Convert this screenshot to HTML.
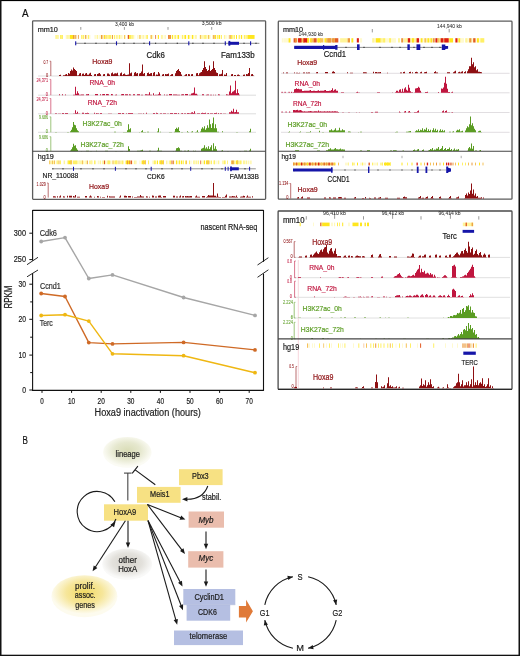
<!DOCTYPE html>
<html><head><meta charset="utf-8"><style>
html,body{margin:0;padding:0;background:#fff;width:520px;height:656px;overflow:hidden}
svg{display:block;will-change:transform}
text{font-family:"Liberation Sans", sans-serif;}
</style></head><body>
<svg width="520" height="656" viewBox="0 0 520 656" font-family='"Liberation Sans", sans-serif'>
<rect x="0" y="0" width="520" height="656" fill="#fff"/>
<text x="21.9" y="16.7" font-size="11.12" fill="#111" stroke="#111" stroke-width="0.2" textLength="6.6" lengthAdjust="spacingAndGlyphs">A</text>
<text x="22.6" y="443.7" font-size="11.12" fill="#111" stroke="#111" stroke-width="0.2" textLength="5.4" lengthAdjust="spacingAndGlyphs">B</text>
<line x1="32.6" y1="210.4" x2="263.5" y2="210.4" stroke="#111" stroke-width="1.1"/>
<line x1="32.6" y1="210" x2="32.6" y2="260.8" stroke="#111" stroke-width="1.1"/>
<line x1="32.6" y1="273.2" x2="32.6" y2="390.9" stroke="#111" stroke-width="1.1"/>
<line x1="32.1" y1="390.4" x2="263.5" y2="390.4" stroke="#111" stroke-width="1.1"/>
<line x1="263.5" y1="210" x2="263.5" y2="261.8" stroke="#111" stroke-width="1.1"/>
<line x1="263.5" y1="273.6" x2="263.5" y2="390.9" stroke="#111" stroke-width="1.1"/>
<line x1="27" y1="264.7" x2="38" y2="257.3" stroke="#111" stroke-width="0.9"/>
<line x1="27" y1="276.8" x2="38" y2="270" stroke="#111" stroke-width="0.9"/>
<line x1="257.5" y1="265" x2="268.4" y2="257.7" stroke="#111" stroke-width="0.9"/>
<line x1="257.5" y1="277.3" x2="268.4" y2="269.8" stroke="#111" stroke-width="0.9"/>
<line x1="29.3" y1="233.2" x2="32.6" y2="233.2" stroke="#111" stroke-width="1"/>
<text x="13.8" y="235.9" font-size="8.21" fill="#222" stroke="#222" stroke-width="0.2" textLength="12.2" lengthAdjust="spacingAndGlyphs">300</text>
<line x1="29.3" y1="259.6" x2="32.6" y2="259.6" stroke="#111" stroke-width="1"/>
<text x="13.8" y="262.3" font-size="8.21" fill="#222" stroke="#222" stroke-width="0.2" textLength="12.2" lengthAdjust="spacingAndGlyphs">250</text>
<line x1="29.3" y1="284.2" x2="32.6" y2="284.2" stroke="#111" stroke-width="1"/>
<text x="18.5" y="286.9" font-size="8.21" fill="#222" stroke="#222" stroke-width="0.2" textLength="7.5" lengthAdjust="spacingAndGlyphs">30</text>
<line x1="29.3" y1="319.3" x2="32.6" y2="319.3" stroke="#111" stroke-width="1"/>
<text x="18.5" y="322" font-size="8.21" fill="#222" stroke="#222" stroke-width="0.2" textLength="7.5" lengthAdjust="spacingAndGlyphs">20</text>
<line x1="29.3" y1="355.1" x2="32.6" y2="355.1" stroke="#111" stroke-width="1"/>
<text x="18.4" y="357.8" font-size="8.21" fill="#222" stroke="#222" stroke-width="0.2" textLength="7.6" lengthAdjust="spacingAndGlyphs">10</text>
<line x1="29.3" y1="390" x2="32.6" y2="390" stroke="#111" stroke-width="1"/>
<text x="22.2" y="392.7" font-size="8.21" fill="#222" stroke="#222" stroke-width="0.2" textLength="3.8" lengthAdjust="spacingAndGlyphs">0</text>
<line x1="30.2" y1="301.9" x2="32.6" y2="301.9" stroke="#111" stroke-width="1"/>
<line x1="30.2" y1="337.2" x2="32.6" y2="337.2" stroke="#111" stroke-width="1"/>
<line x1="30.2" y1="372.6" x2="32.6" y2="372.6" stroke="#111" stroke-width="1"/>
<line x1="42" y1="390.4" x2="42" y2="392.9" stroke="#111" stroke-width="1"/>
<text x="40.25" y="403.8" font-size="8.21" fill="#222" stroke="#222" stroke-width="0.2" textLength="3.5" lengthAdjust="spacingAndGlyphs">0</text>
<line x1="71.6" y1="390.4" x2="71.6" y2="392.9" stroke="#111" stroke-width="1"/>
<text x="68" y="403.8" font-size="8.21" fill="#222" stroke="#222" stroke-width="0.2" textLength="7.2" lengthAdjust="spacingAndGlyphs">10</text>
<line x1="101.2" y1="390.4" x2="101.2" y2="392.9" stroke="#111" stroke-width="1"/>
<text x="97.6" y="403.8" font-size="8.21" fill="#222" stroke="#222" stroke-width="0.2" textLength="7.2" lengthAdjust="spacingAndGlyphs">20</text>
<line x1="130.8" y1="390.4" x2="130.8" y2="392.9" stroke="#111" stroke-width="1"/>
<text x="127.2" y="403.8" font-size="8.21" fill="#222" stroke="#222" stroke-width="0.2" textLength="7.2" lengthAdjust="spacingAndGlyphs">30</text>
<line x1="160.4" y1="390.4" x2="160.4" y2="392.9" stroke="#111" stroke-width="1"/>
<text x="156.8" y="403.8" font-size="8.21" fill="#222" stroke="#222" stroke-width="0.2" textLength="7.2" lengthAdjust="spacingAndGlyphs">40</text>
<line x1="190" y1="390.4" x2="190" y2="392.9" stroke="#111" stroke-width="1"/>
<text x="186.4" y="403.8" font-size="8.21" fill="#222" stroke="#222" stroke-width="0.2" textLength="7.2" lengthAdjust="spacingAndGlyphs">50</text>
<line x1="219.6" y1="390.4" x2="219.6" y2="392.9" stroke="#111" stroke-width="1"/>
<text x="216" y="403.8" font-size="8.21" fill="#222" stroke="#222" stroke-width="0.2" textLength="7.2" lengthAdjust="spacingAndGlyphs">60</text>
<line x1="249.2" y1="390.4" x2="249.2" y2="392.9" stroke="#111" stroke-width="1"/>
<text x="245.6" y="403.8" font-size="8.21" fill="#222" stroke="#222" stroke-width="0.2" textLength="7.2" lengthAdjust="spacingAndGlyphs">70</text>
<text x="94.6" y="415.8" font-size="10.58" fill="#222" stroke="#222" stroke-width="0.2" textLength="106.2" lengthAdjust="spacingAndGlyphs">Hoxa9 inactivation (hours)</text>
<text x="0" y="0" font-size="10.2" fill="#1a1a1a" stroke="#1a1a1a" stroke-width="0.2" textLength="23" lengthAdjust="spacingAndGlyphs" transform="translate(11.6,308.6) rotate(-90)">RPKM</text>
<text x="200.5" y="229.9" font-size="8.21" fill="#222" stroke="#222" stroke-width="0.2" textLength="56.9" lengthAdjust="spacingAndGlyphs">nascent RNA-seq</text>
<text x="39.7" y="235.8" font-size="8.21" fill="#333" stroke="#333" stroke-width="0.2" textLength="17.3" lengthAdjust="spacingAndGlyphs">Cdk6</text>
<text x="40" y="288.8" font-size="8.21" fill="#333" stroke="#333" stroke-width="0.2" textLength="20.8" lengthAdjust="spacingAndGlyphs">Ccnd1</text>
<text x="39.7" y="326.2" font-size="8.21" fill="#333" stroke="#333" stroke-width="0.2" textLength="13.1" lengthAdjust="spacingAndGlyphs">Terc</text>
<path d="M41.2,241.5 L65,237.6 L88.8,278.5 L112.5,274.9 L183.6,297.5 L255,315.4" fill="none" stroke="#a6a6a6" stroke-width="1.4" stroke-linejoin="round"/>
<circle cx="41.2" cy="241.5" r="1.9" fill="#a6a6a6"/>
<circle cx="65" cy="237.6" r="1.9" fill="#a6a6a6"/>
<circle cx="88.8" cy="278.5" r="1.9" fill="#a6a6a6"/>
<circle cx="112.5" cy="274.9" r="1.9" fill="#a6a6a6"/>
<circle cx="183.6" cy="297.5" r="1.9" fill="#a6a6a6"/>
<circle cx="255" cy="315.4" r="1.9" fill="#a6a6a6"/>
<path d="M41.2,293.5 L65,296.5 L88.8,342.6 L112.5,343.9 L183.6,342.4 L255,349.9" fill="none" stroke="#cf6a26" stroke-width="1.4" stroke-linejoin="round"/>
<circle cx="41.2" cy="293.5" r="1.9" fill="#cf6a26"/>
<circle cx="65" cy="296.5" r="1.9" fill="#cf6a26"/>
<circle cx="88.8" cy="342.6" r="1.9" fill="#cf6a26"/>
<circle cx="112.5" cy="343.9" r="1.9" fill="#cf6a26"/>
<circle cx="183.6" cy="342.4" r="1.9" fill="#cf6a26"/>
<circle cx="255" cy="349.9" r="1.9" fill="#cf6a26"/>
<path d="M41.2,315.5 L65,314.7 L88.8,321.1 L112.5,353.8 L183.6,355.7 L255,372.7" fill="none" stroke="#efb712" stroke-width="1.4" stroke-linejoin="round"/>
<circle cx="41.2" cy="315.5" r="1.9" fill="#efb712"/>
<circle cx="65" cy="314.7" r="1.9" fill="#efb712"/>
<circle cx="88.8" cy="321.1" r="1.9" fill="#efb712"/>
<circle cx="112.5" cy="353.8" r="1.9" fill="#efb712"/>
<circle cx="183.6" cy="355.7" r="1.9" fill="#efb712"/>
<circle cx="255" cy="372.7" r="1.9" fill="#efb712"/>
<defs>
<radialGradient id="gLin" cx="50%" cy="45%" r="50%"><stop offset="0" stop-color="#d9dcb6"/><stop offset="0.55" stop-color="#e6e8cf"/><stop offset="1" stop-color="#fbfbf4"/></radialGradient>
<radialGradient id="gOth" cx="50%" cy="45%" r="50%"><stop offset="0" stop-color="#d6d3cc"/><stop offset="0.6" stop-color="#e3e1dc"/><stop offset="1" stop-color="#f9f9f8"/></radialGradient>
<radialGradient id="gPro" cx="50%" cy="42%" r="50%"><stop offset="0" stop-color="#f2da62"/><stop offset="0.55" stop-color="#f6e69a"/><stop offset="1" stop-color="#fdfbee"/></radialGradient>
</defs>
<ellipse cx="127.3" cy="452.3" rx="24.3" ry="15.4" fill="url(#gLin)"/>
<ellipse cx="127.2" cy="564.2" rx="25" ry="15.6" fill="url(#gOth)"/>
<ellipse cx="84.4" cy="596.2" rx="33" ry="21" fill="url(#gPro)"/>
<text x="115.6" y="456.6" font-size="8.53" fill="#1c1c1c" stroke="#1c1c1c" stroke-width="0.2" textLength="24.4" lengthAdjust="spacingAndGlyphs">lineage</text>
<text x="118.6" y="562.7" font-size="8.53" fill="#1c1c1c" stroke="#1c1c1c" stroke-width="0.2" textLength="18.2" lengthAdjust="spacingAndGlyphs">other</text>
<text x="118.2" y="572" font-size="8.53" fill="#1c1c1c" stroke="#1c1c1c" stroke-width="0.2" textLength="19" lengthAdjust="spacingAndGlyphs">HoxA</text>
<text x="75" y="588.5" font-size="8.53" fill="#1c1c1c" stroke="#1c1c1c" stroke-width="0.2" textLength="20" lengthAdjust="spacingAndGlyphs">prolif.</text>
<text x="74.8" y="598" font-size="8.53" fill="#1c1c1c" stroke="#1c1c1c" stroke-width="0.2" textLength="20.8" lengthAdjust="spacingAndGlyphs">assoc.</text>
<text x="75.2" y="607.7" font-size="8.53" fill="#1c1c1c" stroke="#1c1c1c" stroke-width="0.2" textLength="19.8" lengthAdjust="spacingAndGlyphs">genes</text>
<rect x="179" y="469.2" width="43.6" height="15.9" fill="#f7e183"/>
<rect x="137" y="486.9" width="43.6" height="15.9" fill="#f7e183"/>
<rect x="104" y="504.3" width="44" height="16.4" fill="#f7e183"/>
<rect x="188.6" y="511.5" width="35.4" height="16.2" fill="#eabdad"/>
<rect x="188.2" y="551.2" width="35.2" height="16.4" fill="#eabdad"/>
<rect x="186.6" y="604.7" width="43.6" height="16" fill="#b5bfe2"/>
<rect x="183.3" y="589" width="52" height="15.7" fill="#b5bfe2"/>
<line x1="183.3" y1="604.75" x2="235.3" y2="604.75" stroke="#a7b1d6" stroke-width="0.5"/>
<rect x="174" y="630.5" width="69" height="14.6" fill="#b5bfe2"/>
<text x="192" y="479.3" font-size="8.53" fill="#1c1c1c" stroke="#1c1c1c" stroke-width="0.2" textLength="16.7" lengthAdjust="spacingAndGlyphs">Pbx3</text>
<text x="150.1" y="497.3" font-size="8.53" fill="#1c1c1c" stroke="#1c1c1c" stroke-width="0.2" textLength="19.5" lengthAdjust="spacingAndGlyphs">Meis1</text>
<text x="113.5" y="515" font-size="8.53" fill="#1c1c1c" stroke="#1c1c1c" stroke-width="0.2" textLength="22.7" lengthAdjust="spacingAndGlyphs">HoxA9</text>
<text x="198.4" y="522.8" font-size="8.53" fill="#1c1c1c" stroke="#1c1c1c" stroke-width="0.2" textLength="15.2" lengthAdjust="spacingAndGlyphs" font-style="italic">Myb</text>
<text x="198.6" y="561.3" font-size="8.53" fill="#1c1c1c" stroke="#1c1c1c" stroke-width="0.2" textLength="14.6" lengthAdjust="spacingAndGlyphs" font-style="italic">Myc</text>
<text x="194.4" y="599.8" font-size="8.53" fill="#1c1c1c" stroke="#1c1c1c" stroke-width="0.2" textLength="29.6" lengthAdjust="spacingAndGlyphs">CyclinD1</text>
<text x="198" y="615.3" font-size="8.53" fill="#1c1c1c" stroke="#1c1c1c" stroke-width="0.2" textLength="18.8" lengthAdjust="spacingAndGlyphs">CDK6</text>
<text x="189.6" y="639.2" font-size="8.53" fill="#1c1c1c" stroke="#1c1c1c" stroke-width="0.2" textLength="37.6" lengthAdjust="spacingAndGlyphs">telomerase</text>
<text x="202" y="500.3" font-size="8.21" fill="#1c1c1c" stroke="#1c1c1c" stroke-width="0.2" textLength="19.3" lengthAdjust="spacingAndGlyphs">stabil.</text>
<path d="M238.9,605.9 H246.1 V599.8 L252.9,611.2 L246.1,622.5 V617.4 H238.9 Z" fill="#e07a38"/>
<line x1="127.8" y1="473.1" x2="127.8" y2="500.5" stroke="#555" stroke-width="1.2"/>
<line x1="124" y1="473.1" x2="131.6" y2="473.1" stroke="#444" stroke-width="1.1"/>
<line x1="155.3" y1="484.7" x2="135.2" y2="469.9" stroke="#1a1a1a" stroke-width="1.1"/>
<line x1="132.2" y1="473.3" x2="137.9" y2="466.1" stroke="#1a1a1a" stroke-width="1.1"/>
<path d="M114.88,501.76 A20.1,20.1 0 1 0 115.94,519.03" fill="none" stroke="#1a1a1a" stroke-width="1.1"/>
<path d="M115.6,521.3 L114.09,527.35 L110.35,524.68 Z" fill="#1a1a1a"/>
<line x1="128" y1="520.8" x2="128" y2="543.68" stroke="#1a1a1a" stroke-width="1.1"/>
<path d="M128,548 L125.8,542.6 L130.2,542.6 Z" fill="#1a1a1a"/>
<line x1="125.4" y1="520.8" x2="94.95" y2="567.68" stroke="#1a1a1a" stroke-width="1.1"/>
<path d="M92.6,571.3 L93.7,565.57 L97.39,567.97 Z" fill="#1a1a1a"/>
<line x1="147.4" y1="504.4" x2="181.39" y2="518" stroke="#1a1a1a" stroke-width="1.1"/>
<path d="M185.4,519.6 L179.57,519.64 L181.2,515.55 Z" fill="#1a1a1a"/>
<line x1="147.4" y1="504.4" x2="182.39" y2="550.56" stroke="#1a1a1a" stroke-width="1.1"/>
<path d="M185,554 L179.98,551.03 L183.49,548.37 Z" fill="#1a1a1a"/>
<line x1="148" y1="520.6" x2="180.5" y2="582.67" stroke="#1a1a1a" stroke-width="1.1"/>
<path d="M182.5,586.5 L178.05,582.74 L181.94,580.7 Z" fill="#1a1a1a"/>
<line x1="148" y1="520.6" x2="181.43" y2="606.18" stroke="#1a1a1a" stroke-width="1.1"/>
<path d="M183,610.2 L178.99,605.97 L183.08,604.37 Z" fill="#1a1a1a"/>
<line x1="148" y1="520.6" x2="176.03" y2="620.54" stroke="#1a1a1a" stroke-width="1.1"/>
<path d="M177.2,624.7 L173.62,620.09 L177.86,618.91 Z" fill="#1a1a1a"/>
<line x1="206" y1="531.5" x2="206" y2="544.88" stroke="#1a1a1a" stroke-width="1.1"/>
<path d="M206,549.2 L203.8,543.8 L208.2,543.8 Z" fill="#1a1a1a"/>
<line x1="206" y1="569.6" x2="206" y2="582.48" stroke="#1a1a1a" stroke-width="1.1"/>
<path d="M206,586.8 L203.8,581.4 L208.2,581.4 Z" fill="#1a1a1a"/>
<path d="M207.8,486.0 Q203,499.5 186.5,499.3" fill="none" stroke="#1a1a1a" stroke-width="1.1"/>
<path d="M182,499.3 L187.35,496.99 L187.44,501.39 Z" fill="#1a1a1a"/>
<path d="M264.8,604.91 A36.5,36.5 0 0 1 292.91,576.8" fill="none" stroke="#1a1a1a" stroke-width="1.1"/>
<path d="M292.91,576.8 L288.26,579.93 L287.39,575.82 Z" fill="#1a1a1a"/>
<path d="M308.09,576.8 A36.5,36.5 0 0 1 336.2,604.91" fill="none" stroke="#1a1a1a" stroke-width="1.1"/>
<path d="M336.2,604.91 L333.07,600.26 L337.18,599.39 Z" fill="#1a1a1a"/>
<path d="M336.2,620.09 A36.5,36.5 0 0 1 308.09,648.2" fill="none" stroke="#1a1a1a" stroke-width="1.1"/>
<path d="M308.09,648.2 L312.74,645.07 L313.61,649.18 Z" fill="#1a1a1a"/>
<path d="M292.91,648.2 A36.5,36.5 0 0 1 264.8,620.09" fill="none" stroke="#1a1a1a" stroke-width="1.1"/>
<path d="M264.8,620.09 L267.93,624.74 L263.82,625.61 Z" fill="#1a1a1a"/>
<text x="297.5" y="579.6" font-size="9.29" fill="#1c1c1c" stroke="#1c1c1c" stroke-width="0.2" textLength="5.1" lengthAdjust="spacingAndGlyphs">S</text>
<text x="259.8" y="616" font-size="9.29" fill="#1c1c1c" stroke="#1c1c1c" stroke-width="0.2" textLength="9.6" lengthAdjust="spacingAndGlyphs">G1</text>
<text x="332.6" y="616" font-size="9.29" fill="#1c1c1c" stroke="#1c1c1c" stroke-width="0.2" textLength="9.8" lengthAdjust="spacingAndGlyphs">G2</text>
<text x="296.3" y="651" font-size="9.29" fill="#1c1c1c" stroke="#1c1c1c" stroke-width="0.2" textLength="7.7" lengthAdjust="spacingAndGlyphs">M</text>
<rect x="32.6" y="20.8" width="233" height="178.5" fill="none" stroke="#5c5c5c" stroke-width="1.3" rx="0.8"/>
<text x="37.8" y="31.5" font-size="7.99" fill="#1a1a1a" stroke="#1a1a1a" stroke-width="0.2" textLength="20.1" lengthAdjust="spacingAndGlyphs">mm10</text>
<line x1="80.8" y1="27" x2="80.8" y2="29.8" stroke="#555" stroke-width="0.6"/>
<line x1="124.4" y1="27" x2="124.4" y2="29.8" stroke="#555" stroke-width="0.6"/>
<line x1="168" y1="27" x2="168" y2="29.8" stroke="#555" stroke-width="0.6"/>
<line x1="211.7" y1="27" x2="211.7" y2="29.8" stroke="#555" stroke-width="0.6"/>
<text x="115" y="25.8" font-size="5.62" fill="#333" stroke="#333" stroke-width="0.06" textLength="18.9" lengthAdjust="spacingAndGlyphs">3,400 kb</text>
<text x="201.8" y="25.4" font-size="5.62" fill="#333" stroke="#333" stroke-width="0.06" textLength="19.7" lengthAdjust="spacingAndGlyphs">3,500 kb</text>
<rect x="57.1" y="35" width="1.5" height="3.9" fill="#fff59a"/>
<rect x="60.9" y="35" width="1" height="3.9" fill="#fff59a"/>
<rect x="62.2" y="35" width="0.8" height="3.9" fill="#fff066"/>
<rect x="65.6" y="35" width="0.8" height="3.9" fill="#fffad0"/>
<rect x="66.4" y="35" width="1.5" height="3.9" fill="#fff59a"/>
<rect x="68.2" y="35" width="1" height="3.9" fill="#fff59a"/>
<rect x="69.2" y="35" width="0.8" height="3.9" fill="#fff59a"/>
<rect x="71" y="35" width="0.8" height="3.9" fill="#fff59a"/>
<rect x="72.1" y="35" width="1.2" height="3.9" fill="#fff59a"/>
<rect x="73.3" y="35" width="1.5" height="3.9" fill="#fff59a"/>
<rect x="76.6" y="35" width="1" height="3.9" fill="#fffad0"/>
<rect x="81.1" y="35" width="1.5" height="3.9" fill="#fff066"/>
<rect x="82.9" y="35" width="1.2" height="3.9" fill="#fff59a"/>
<rect x="85.5" y="35" width="1" height="3.9" fill="#fffad0"/>
<rect x="86.5" y="35" width="0.8" height="3.9" fill="#fff59a"/>
<rect x="87.6" y="35" width="1" height="3.9" fill="#fffad0"/>
<rect x="88.9" y="35" width="1.5" height="3.9" fill="#fffad0"/>
<rect x="94.7" y="35" width="0.8" height="3.9" fill="#fff59a"/>
<rect x="96.6" y="35" width="1.5" height="3.9" fill="#fff59a"/>
<rect x="98.7" y="35" width="1.2" height="3.9" fill="#fffad0"/>
<rect x="99.9" y="35" width="1" height="3.9" fill="#fffad0"/>
<rect x="100.9" y="35" width="1.2" height="3.9" fill="#fff59a"/>
<rect x="104.2" y="35" width="1.5" height="3.9" fill="#fffad0"/>
<rect x="107.6" y="35" width="1" height="3.9" fill="#fff066"/>
<rect x="110.4" y="35" width="1.5" height="3.9" fill="#fffad0"/>
<rect x="111.9" y="35" width="1.2" height="3.9" fill="#fff066"/>
<rect x="114.1" y="35" width="1.2" height="3.9" fill="#fff59a"/>
<rect x="116.3" y="35" width="1.2" height="3.9" fill="#fff066"/>
<rect x="117.5" y="35" width="1" height="3.9" fill="#fff59a"/>
<rect x="118.5" y="35" width="1.2" height="3.9" fill="#fffad0"/>
<rect x="119.7" y="35" width="0.8" height="3.9" fill="#fff59a"/>
<rect x="120.8" y="35" width="0.8" height="3.9" fill="#fff59a"/>
<rect x="122.2" y="35" width="1" height="3.9" fill="#fffad0"/>
<rect x="124.2" y="35" width="1.2" height="3.9" fill="#fff066"/>
<rect x="127.5" y="35" width="1.2" height="3.9" fill="#fffad0"/>
<rect x="128.7" y="35" width="0.8" height="3.9" fill="#fff066"/>
<rect x="130.1" y="35" width="1.2" height="3.9" fill="#fffad0"/>
<rect x="131.3" y="35" width="1.5" height="3.9" fill="#fff066"/>
<rect x="132.8" y="35" width="1" height="3.9" fill="#fff59a"/>
<rect x="134.4" y="35" width="0.8" height="3.9" fill="#fffad0"/>
<rect x="137" y="35" width="1.5" height="3.9" fill="#fffad0"/>
<rect x="138.5" y="35" width="0.8" height="3.9" fill="#fffad0"/>
<rect x="139.9" y="35" width="1.5" height="3.9" fill="#fff59a"/>
<rect x="142.4" y="35" width="1.5" height="3.9" fill="#fff59a"/>
<rect x="143.9" y="35" width="0.8" height="3.9" fill="#fffad0"/>
<rect x="145.7" y="35" width="0.8" height="3.9" fill="#fff066"/>
<rect x="146.5" y="35" width="1.5" height="3.9" fill="#fff066"/>
<rect x="150.8" y="35" width="1.2" height="3.9" fill="#fff59a"/>
<rect x="152.3" y="35" width="1" height="3.9" fill="#fff59a"/>
<rect x="156.4" y="35" width="1.5" height="3.9" fill="#fffad0"/>
<rect x="160.9" y="35" width="1" height="3.9" fill="#fff59a"/>
<rect x="162.2" y="35" width="1" height="3.9" fill="#fff59a"/>
<rect x="164.6" y="35" width="1" height="3.9" fill="#fff59a"/>
<rect x="168.2" y="35" width="1.5" height="3.9" fill="#fff066"/>
<rect x="170.7" y="35" width="1.2" height="3.9" fill="#fffad0"/>
<rect x="172.5" y="35" width="0.8" height="3.9" fill="#fff59a"/>
<rect x="173.9" y="35" width="1.2" height="3.9" fill="#fff59a"/>
<rect x="175.1" y="35" width="1" height="3.9" fill="#fffad0"/>
<rect x="176.1" y="35" width="1.2" height="3.9" fill="#fffad0"/>
<rect x="177.3" y="35" width="0.8" height="3.9" fill="#fff066"/>
<rect x="178.7" y="35" width="0.8" height="3.9" fill="#fffad0"/>
<rect x="180.5" y="35" width="1.2" height="3.9" fill="#fffad0"/>
<rect x="182.7" y="35" width="0.8" height="3.9" fill="#fff59a"/>
<rect x="184.1" y="35" width="1" height="3.9" fill="#fff066"/>
<rect x="185.4" y="35" width="0.8" height="3.9" fill="#fff066"/>
<rect x="187.2" y="35" width="1" height="3.9" fill="#fffad0"/>
<rect x="188.2" y="35" width="1.5" height="3.9" fill="#fff066"/>
<rect x="190.3" y="35" width="1.5" height="3.9" fill="#fffad0"/>
<rect x="191.8" y="35" width="0.8" height="3.9" fill="#fff59a"/>
<rect x="192.6" y="35" width="1.2" height="3.9" fill="#fff59a"/>
<rect x="194.4" y="35" width="0.8" height="3.9" fill="#fffad0"/>
<rect x="195.2" y="35" width="1.5" height="3.9" fill="#fff59a"/>
<rect x="199.1" y="35" width="0.8" height="3.9" fill="#fffad0"/>
<rect x="200.2" y="35" width="1.2" height="3.9" fill="#fffad0"/>
<rect x="204.4" y="35" width="1.5" height="3.9" fill="#fff066"/>
<rect x="205.9" y="35" width="1" height="3.9" fill="#fff59a"/>
<rect x="207.5" y="35" width="1" height="3.9" fill="#fff59a"/>
<rect x="209.1" y="35" width="1.2" height="3.9" fill="#fff59a"/>
<rect x="212.4" y="35" width="1.5" height="3.9" fill="#fff59a"/>
<rect x="213.9" y="35" width="0.8" height="3.9" fill="#fffad0"/>
<rect x="214.7" y="35" width="1.5" height="3.9" fill="#fff59a"/>
<rect x="216.2" y="35" width="1.5" height="3.9" fill="#fffad0"/>
<rect x="217.7" y="35" width="1.5" height="3.9" fill="#fff59a"/>
<rect x="219.8" y="35" width="1" height="3.9" fill="#fffad0"/>
<rect x="223.9" y="35" width="1.2" height="3.9" fill="#fff59a"/>
<rect x="225.1" y="35" width="1.2" height="3.9" fill="#fffad0"/>
<rect x="226.3" y="35" width="1" height="3.9" fill="#fffad0"/>
<rect x="227.9" y="35" width="1.2" height="3.9" fill="#fffad0"/>
<rect x="230.1" y="35" width="0.8" height="3.9" fill="#fff59a"/>
<rect x="230.9" y="35" width="1.2" height="3.9" fill="#fff066"/>
<rect x="233.1" y="35" width="0.8" height="3.9" fill="#fff59a"/>
<rect x="238.4" y="35" width="1" height="3.9" fill="#fff59a"/>
<rect x="239.7" y="35" width="1" height="3.9" fill="#fffad0"/>
<rect x="242" y="35" width="0.8" height="3.9" fill="#fffad0"/>
<rect x="243.8" y="35" width="1.5" height="3.9" fill="#fff066"/>
<rect x="245.6" y="35" width="1" height="3.9" fill="#fff066"/>
<rect x="246.6" y="35" width="0.8" height="3.9" fill="#fff066"/>
<rect x="248" y="35" width="1.2" height="3.9" fill="#fff59a"/>
<rect x="251.8" y="35" width="0.8" height="3.9" fill="#fff59a"/>
<rect x="253.6" y="35" width="1" height="3.9" fill="#fffad0"/>
<rect x="55.5" y="35" width="1.2" height="3.9" fill="#fff066"/>
<rect x="57.5" y="35" width="1" height="3.9" fill="#fff59a"/>
<rect x="60" y="35" width="1.5" height="3.9" fill="#fff066"/>
<rect x="61.8" y="35" width="1.2" height="3.9" fill="#fff066"/>
<rect x="70" y="35" width="3" height="3.9" fill="#ffe61e"/>
<rect x="73" y="35" width="1.2" height="3.9" fill="#ec9a3c"/>
<rect x="74.3" y="35" width="1" height="3.9" fill="#f6c25a"/>
<rect x="75.3" y="35" width="1" height="3.9" fill="#ec9a3c"/>
<rect x="78" y="35" width="0.8" height="3.9" fill="#ec9a3c"/>
<rect x="83" y="35" width="1.2" height="3.9" fill="#fff066"/>
<rect x="85.2" y="35" width="1" height="3.9" fill="#ec9a3c"/>
<rect x="88" y="35" width="1" height="3.9" fill="#fff066"/>
<rect x="101" y="35" width="1.2" height="3.9" fill="#ec9a3c"/>
<rect x="102.4" y="35" width="1" height="3.9" fill="#f6c25a"/>
<rect x="104" y="35" width="1" height="3.9" fill="#ffe61e"/>
<rect x="105.5" y="35" width="0.8" height="3.9" fill="#f6c25a"/>
<rect x="106.5" y="35" width="0.8" height="3.9" fill="#ffe61e"/>
<rect x="108.5" y="35" width="2.5" height="3.9" fill="#fff066"/>
<rect x="112" y="35" width="0.9" height="3.9" fill="#ec9a3c"/>
<rect x="114" y="35" width="1" height="3.9" fill="#fff066"/>
<rect x="119" y="35" width="1" height="3.9" fill="#fff066"/>
<rect x="124" y="35" width="0.9" height="3.9" fill="#f6c25a"/>
<rect x="127.8" y="35" width="1.2" height="3.9" fill="#e25a24"/>
<rect x="129.2" y="35" width="1.5" height="3.9" fill="#ffe61e"/>
<rect x="139.3" y="35" width="1" height="3.9" fill="#f6c25a"/>
<rect x="150.5" y="35" width="1.5" height="3.9" fill="#f6c25a"/>
<rect x="155.3" y="35" width="0.7" height="3.9" fill="#e25a24"/>
<rect x="158" y="35" width="1" height="3.9" fill="#ffe61e"/>
<rect x="168.3" y="35" width="1.3" height="3.9" fill="#e25a24"/>
<rect x="169.8" y="35" width="1.2" height="3.9" fill="#ec9a3c"/>
<rect x="172" y="35" width="1" height="3.9" fill="#ffe61e"/>
<rect x="175" y="35" width="1" height="3.9" fill="#fff066"/>
<rect x="178" y="35" width="1" height="3.9" fill="#ffe61e"/>
<rect x="182" y="35" width="1" height="3.9" fill="#fff066"/>
<rect x="185" y="35" width="1" height="3.9" fill="#ffe61e"/>
<rect x="188" y="35" width="1" height="3.9" fill="#ffe61e"/>
<rect x="192" y="35" width="1" height="3.9" fill="#ffe61e"/>
<rect x="200" y="35" width="1" height="3.9" fill="#f6c25a"/>
<rect x="201.5" y="35" width="1" height="3.9" fill="#fff066"/>
<rect x="203.5" y="35" width="1" height="3.9" fill="#fff066"/>
<rect x="208" y="35" width="1" height="3.9" fill="#f6c25a"/>
<rect x="213.3" y="35" width="1.2" height="3.9" fill="#ec9a3c"/>
<rect x="215" y="35" width="1" height="3.9" fill="#ffe61e"/>
<rect x="217" y="35" width="1" height="3.9" fill="#fff066"/>
<rect x="219" y="35" width="1" height="3.9" fill="#ffe61e"/>
<rect x="221" y="35" width="1" height="3.9" fill="#fff066"/>
<rect x="229.4" y="35" width="1.2" height="3.9" fill="#ec9a3c"/>
<rect x="231.5" y="35" width="1" height="3.9" fill="#ffe61e"/>
<rect x="234" y="35" width="1" height="3.9" fill="#fff066"/>
<rect x="236" y="35" width="1" height="3.9" fill="#ffe61e"/>
<rect x="239" y="35" width="1" height="3.9" fill="#fff066"/>
<rect x="241" y="35" width="1" height="3.9" fill="#ffe61e"/>
<rect x="247.5" y="35" width="7" height="3.9" fill="#ffe61e"/>
<line x1="75.7" y1="43.3" x2="259.4" y2="43.3" stroke="#444" stroke-width="0.6"/>
<rect x="84.4" y="42.7" width="1.2" height="1.2" fill="#333"/>
<rect x="95.4" y="42.7" width="1.2" height="1.2" fill="#333"/>
<rect x="106.4" y="42.7" width="1.2" height="1.2" fill="#333"/>
<rect x="123.4" y="42.7" width="1.2" height="1.2" fill="#333"/>
<rect x="133.4" y="42.7" width="1.2" height="1.2" fill="#333"/>
<rect x="143.4" y="42.7" width="1.2" height="1.2" fill="#333"/>
<rect x="155" y="42.7" width="1.2" height="1.2" fill="#333"/>
<rect x="165.4" y="42.7" width="1.2" height="1.2" fill="#333"/>
<rect x="176.7" y="42.7" width="1.2" height="1.2" fill="#333"/>
<rect x="192.3" y="42.7" width="1.2" height="1.2" fill="#333"/>
<rect x="202.4" y="42.7" width="1.2" height="1.2" fill="#333"/>
<rect x="213.4" y="42.7" width="1.2" height="1.2" fill="#333"/>
<rect x="243.4" y="42.7" width="1.2" height="1.2" fill="#333"/>
<rect x="255.4" y="42.7" width="1.2" height="1.2" fill="#333"/>
<rect x="75.15" y="41.3" width="1.1" height="4" fill="#1515a8"/>
<rect x="115.95" y="41.3" width="1.1" height="4" fill="#1515a8"/>
<rect x="149.05" y="41.3" width="1.1" height="4" fill="#1515a8"/>
<rect x="188.25" y="41.3" width="1.1" height="4" fill="#1515a8"/>
<rect x="224.75" y="41.3" width="1.1" height="4" fill="#1515a8"/>
<rect x="250.05" y="41.3" width="1.1" height="4" fill="#1515a8"/>
<rect x="228.5" y="41.8" width="10.5" height="3" fill="#1515a8"/>
<rect x="228.5" y="40.9" width="1.8" height="4.8" fill="#1515a8"/>
<text x="146.5" y="57.7" font-size="8.42" fill="#1a1a1a" stroke="#1a1a1a" stroke-width="0.2" textLength="18.3" lengthAdjust="spacingAndGlyphs">Cdk6</text>
<text x="221" y="57.7" font-size="8.42" fill="#1a1a1a" stroke="#1a1a1a" stroke-width="0.2" textLength="33.7" lengthAdjust="spacingAndGlyphs">Fam133b</text>
<line x1="38" y1="76" x2="254.6" y2="76" stroke="#d9d9d9" stroke-width="0.9"/>
<line x1="50.8" y1="61.2" x2="50.8" y2="76" stroke="#8e0f12" stroke-width="0.6"/>
<line x1="49.6" y1="61.2" x2="50.8" y2="61.2" stroke="#8e0f12" stroke-width="0.5"/>
<text x="43.4" y="63.8" font-size="4.97" fill="#8e0f12" stroke="#8e0f12" stroke-width="0.06" textLength="4.8" lengthAdjust="spacingAndGlyphs">0.7</text>
<text x="46" y="77" font-size="4.97" fill="#8e0f12" stroke="#8e0f12" stroke-width="0.06" textLength="2.2" lengthAdjust="spacingAndGlyphs">0</text>
<path d="M55,76V76H56V76H57V76H58V76H59V74.89H60V74.87H61V76H62V76H63V75.34H64V75.34H65V74.4H66V74H67V75.17H68V73H69V73.64H70V71H71V69.5H72V70.5H73V67.5H74V69H75V70H76V71H77V75.4H78V75.37H79V73.48H80V73H81V75.86H82V73.81H83V73.5H84V75.11H85V73.52H86V73H87V74.79H88V74.7H89V73.45H90V72.8H91V75.09H92V76H93V76H94V74.14H95V74H96V76H97V74.03H98V73.4H99V73H100V74.25H101V76H102V76H103V74.19H104V74H105V76H106V75.88H107V73.61H108V73.5H109V74.45H110V75.99H111V73.31H112V72.5H113V74.27H114V73.48H115V73.2H116V73.49H117V72.8H118V75.39H119V75.86H120V73.27H121V72.5H122V75.22H123V73.97H124V73.5H125V74.8H126V74.9H127V74.82H128V74.47H129V63.3H130V73.19H131V72.5H132V75.99H133V75.83H134V72.75H135V72H136V73.43H137V73H138V75.99H139V73.61H140V73H141V71.6H142V64.4H143V73.74H144V73H145V75.99H146V75.85H147V72.96H148V72.5H149V74.09H150V73.35H151V73H152V75.83H153V72.76H154V72H155V75.81H156V74.57H157V74.79H158V72H159V73.49H160V76H161V76H162V74.47H163V74H164V76H165V74.12H166V74.26H167V73.92H168V73.5H169V75.9H170V75.27H171V74.18H172V74H173V76H174V75.97H175V73.23H176V71H177V70H178V69H179V71H180V72H181V74.61H182V76H183V76H184V75.44H185V74.47H186V74H187V76H188V74.04H189V74.26H190V76H191V74.2H192V74H193V76H194V76H195V75.99H196V73.36H197V73H198V75.24H199V73.16H200V72.5H201V72H202V70H203V68H204V61.2H205V67H206V69H207V71H208V70H209V65.4H210V71H211V70H212V69H213V61.2H214V68H215V70H216V72.5H217V73H218V75.99H219V74.33H220V74.18H221V73.73H222V70H223V76H224V74.57H225V74.76H226V73H227V76H228V76H229V76H230V76H231V74.16H232V74H233V76H234V74.94H235V74.88H236V76H237V74.82H238V74.5H239V75.29H240V76H241V76H242V76H243V74.84H244V74.5H245V76H246V74.07H247V74.23H248V72.91H249V68H250V75.99H251V74.18H252V74H253V75.45H254V76H255V76Z" fill="#8e0f12"/>
<text x="92.3" y="63.8" font-size="7.56" fill="#8e0f12" stroke="#8e0f12" stroke-width="0.2" textLength="20.1" lengthAdjust="spacingAndGlyphs">Hoxa9</text>
<line x1="38" y1="95.2" x2="256" y2="95.2" stroke="#d9d9d9" stroke-width="0.9"/>
<line x1="50.8" y1="79.4" x2="50.8" y2="95.2" stroke="#c0163f" stroke-width="0.6"/>
<line x1="49.6" y1="79.4" x2="50.8" y2="79.4" stroke="#c0163f" stroke-width="0.5"/>
<text x="36.4" y="82" font-size="4.97" fill="#c0163f" stroke="#c0163f" stroke-width="0.06" textLength="11.6" lengthAdjust="spacingAndGlyphs">24,371</text>
<text x="45.8" y="96.2" font-size="4.97" fill="#c0163f" stroke="#c0163f" stroke-width="0.06" textLength="2.2" lengthAdjust="spacingAndGlyphs">0</text>
<path d="M55,95.2V95.2H56V95.2H57V95.2H58V95.2H59V94.21H60V95.2H61V95.2H62V94.29H63V95.2H64V95.2H65V94.6H66V95.2H67V95.2H68V95.2H69V95.2H70V95.2H71V95.2H72V95.2H73V94.83H74V94.85H75V86.7H76V93.66H77V91.2H78V93.2H79V94.64H80V94.65H81V94.62H82V94.48H83V94.44H84V95.2H85V95.2H86V94.21H87V94.21H88V94.01H89V95.2H90V95.2H91V95.2H92V95.2H93V95.2H94V95.2H95V94H96V93.94H97V93.94H98V95.2H99V95.2H100V94.2H101V95.2H102V94.16H103V93.99H104V94.06H105V95.2H106V94.09H107V94.03H108V94.15H109V95.2H110V95.2H111V94.11H112V94.2H113V95.2H114V95.2H115V94.63H116V94.53H117V95.2H118V95.2H119V95.2H120V95.2H121V94.15H122V93.99H123V93.98H124V95.2H125V94.25H126V94.27H127V94.27H128V95.2H129V94.37H130V94.49H131V95.2H132V95.2H133V94.2H134V94.21H135V95.2H136V95.2H137V94.17H138V94.26H139V94.15H140V95.2H141V94.67H142V94.65H143V95.2H144V95.2H145V94.25H146V94.18H147V94.58H148V94.46H149V92.2H150V94.76H151V94.76H152V95.18H153V93.2H154V94.95H155V94.66H156V94.66H157V94.67H158V94.13H159V92.2H160V94.28H161V95.2H162V95.2H163V95.2H164V94.42H165V95.2H166V94.79H167V94.86H168V95.2H169V94.12H170V94.09H171V94H172V95.2H173V94.38H174V94.45H175V94.51H176V94.38H177V94.72H178V94.73H179V94.79H180V95.2H181V94.41H182V94.29H183V94.37H184V95.2H185V94.1H186V94.03H187V93.99H188V95.2H189V94.83H190V94.71H191V93.5H192V93.2H193V92.81H194V87.6H195V93.85H196V93.7H197V94.81H198V95.2H199V95.2H200V95.2H201V95.2H202V94.3H203V94.29H204V95.2H205V95.2H206V94.7H207V94.59H208V94.6H209V95.2H210V94.81H211V94.8H212V95.2H213V94.66H214V95.2H215V94.64H216V95.2H217V95.2H218V94.27H219V94.39H220V95.2H221V95.2H222V95.2H223V95.2H224V95.2H225V95.2H226V94.37H227V94.44H228V94.68H229V91.42H230V85.5H231V93.29H232V91.7H233V91.2H234V90.36H235V80.8H236V93.24H237V89.2H238V93.09H239V94.74H240V95.2Z" fill="#c0163f"/>
<text x="89.5" y="85" font-size="7.56" fill="#c0163f" stroke="#c0163f" stroke-width="0.2" textLength="25.5" lengthAdjust="spacingAndGlyphs">RNA_0h</text>
<line x1="38" y1="113.8" x2="256" y2="113.8" stroke="#d9d9d9" stroke-width="0.9"/>
<line x1="50.8" y1="98.5" x2="50.8" y2="113.8" stroke="#c0163f" stroke-width="0.6"/>
<line x1="49.6" y1="98.5" x2="50.8" y2="98.5" stroke="#c0163f" stroke-width="0.5"/>
<text x="36.4" y="101.1" font-size="4.97" fill="#c0163f" stroke="#c0163f" stroke-width="0.06" textLength="11.6" lengthAdjust="spacingAndGlyphs">24,371</text>
<text x="45.8" y="114.8" font-size="4.97" fill="#c0163f" stroke="#c0163f" stroke-width="0.06" textLength="2.2" lengthAdjust="spacingAndGlyphs">0</text>
<path d="M55,113.8V113.27H56V113.2H57V113.8H58V113.5H59V113.47H60V113.47H61V113.8H62V112.9H63V112.88H64V113.8H65V113.08H66V113.03H67V113.01H68V113.8H69V113.8H70V113.8H71V113.8H72V113.8H73V113.48H74V113.49H75V110.3H76V112.9H77V111.8H78V113.47H79V113.49H80V113.8H81V113.8H82V112.85H83V112.85H84V113.8H85V113.04H86V112.94H87V112.86H88V112.99H89V113.8H90V113.8H91V113.8H92V113.8H93V113.8H94V112.85H95V113.8H96V113.11H97V113.19H98V113.14H99V113.8H100V113.1H101V113.03H102V113.8H103V113.8H104V113.8H105V113.8H106V113.8H107V113.8H108V113.42H109V113.42H110V113.4H111V113.43H112V113.8H113V113.8H114V113.8H115V113.8H116V113.8H117V113.8H118V112.88H119V112.93H120V112.99H121V113.8H122V112.94H123V112.99H124V113.8H125V113.8H126V113.28H127V113.8H128V112.98H129V112.98H130V112.99H131V113.06H132V113.02H133V113.8H134V113.8H135V113.8H136V113.8H137V113.8H138V113.47H139V113.48H140V113.41H141V113.48H142V113.8H143V113.27H144V113.8H145V113.8H146V112.8H147V113.8H148V113.8H149V113.8H150V113.8H151V113.8H152V113.8H153V113.02H154V113.1H155V113.8H156V112.8H157V112.88H158V113.8H159V113.8H160V113.35H161V113.3H162V113.8H163V113.18H164V113.18H165V113.15H166V113.8H167V113.5H168V113.49H169V113.8H170V113.01H171V113.01H172V113.1H173V113.8H174V113.02H175V113.04H176V112.99H177V113.8H178V112.98H179V113.8H180V113.8H181V113.14H182V113.03H183V113.8H184V113.28H185V113.26H186V113.8H187V112.95H188V113.05H189V113.32H190V113.31H191V112.46H192V112.3H193V112.88H194V111.3H195V113.39H196V113.8H197V113.23H198V113.32H199V113.28H200V113.8H201V112.98H202V112.87H203V112.98H204V112.92H205V112.84H206V113.8H207V113.15H208V113.11H209V113.8H210V113.35H211V113.37H212V113.35H213V113.8H214V113.02H215V112.99H216V112.87H217V113.8H218V112.91H219V113.8H220V113.2H221V113.22H222V113.8H223V113.53H224V113.53H225V113.52H226V113.8H227V113.8H228V113.8H229V112.21H230V112.22H231V110.8H232V111.74H233V108.8H234V112.32H235V112.03H236V109.8H237V112.24H238V112.2H239V113.8Z" fill="#c0163f"/>
<text x="87.7" y="105" font-size="7.56" fill="#c0163f" stroke="#c0163f" stroke-width="0.2" textLength="29.3" lengthAdjust="spacingAndGlyphs">RNA_72h</text>
<line x1="38" y1="132.3" x2="256" y2="132.3" stroke="#d9d9d9" stroke-width="0.9"/>
<line x1="50.8" y1="116.8" x2="50.8" y2="132.3" stroke="#5a9c22" stroke-width="0.6"/>
<line x1="49.6" y1="116.8" x2="50.8" y2="116.8" stroke="#5a9c22" stroke-width="0.5"/>
<text x="38.9" y="119.4" font-size="4.97" fill="#5a9c22" stroke="#5a9c22" stroke-width="0.06" textLength="9.1" lengthAdjust="spacingAndGlyphs">9.686</text>
<text x="45.8" y="133.3" font-size="4.97" fill="#5a9c22" stroke="#5a9c22" stroke-width="0.06" textLength="2.2" lengthAdjust="spacingAndGlyphs">0</text>
<path d="M55,132.3V131.91H56V131.93H57V132.3H58V132.3H59V132.3H60V132.3H61V132.3H62V132.3H63V132.3H64V132.3H65V132.3H66V132.3H67V132.06H68V132.03H69V132.3H70V131.24H71V129.8H72V127.3H73V121.9H74V124.8H75V125.3H76V128.3H77V130.3H78V131.3H79V132.3H80V132.3H81V132.3H82V132.3H83V132.3H84V132.3H85V132.3H86V132.3H87V132.3H88V132.3H89V132.3H90V132.3H91V132.3H92V132.3H93V132.3H94V132.3H95V132.3H96V132.3H97V132.3H98V132.3H99V132.3H100V132.3H101V132.3H102V132.3H103V132.3H104V132.3H105V132.3H106V132.3H107V132.3H108V132.3H109V132.3H110V132.3H111V132.3H112V132.3H113V132.3H114V131.77H115V131.73H116V132.3H117V132.3H118V132.3H119V132.3H120V132.3H121V132.3H122V132.3H123V131.95H124V131.94H125V131.9H126V131.92H127V130.13H128V124.3H129V129.14H130V128.3H131V132.3H132V132.3H133V132.3H134V132.3H135V132.3H136V132.3H137V132.3H138V132.3H139V131.99H140V132.29H141V131.24H142V130.3H143V131.96H144V131.94H145V131.97H146V132.3H147V131.8H148V131.8H149V132.3H150V132.3H151V132.3H152V132.3H153V132.3H154V132.3H155V132.3H156V132.3H157V131.39H158V128.3H159V132.14H160V131.67H161V132.3H162V132.3H163V132.3H164V132.3H165V132.3H166V132.3H167V132.3H168V132.3H169V132.02H170V132.02H171V132.03H172V132.3H173V132.3H174V131.74H175V129.02H176V127.8H177V128.72H178V127.3H179V131.01H180V132.15H181V132.05H182V132.06H183V132.3H184V132.3H185V132.3H186V132.3H187V131.3H188V132.08H189V132.3H190V132.3H191V131.86H192V131.3H193V132.3H194V132.3H195V131.91H196V131.66H197V130.3H198V132.11H199V132.27H200V131.55H201V128.69H202V127.3H203V128.4H204V126.3H205V129.65H206V128.3H207V125.3H208V127.64H209V119.6H210V124.3H211V128.08H212V123.3H213V117.5H214V128.17H215V124.3H216V128.3H217V131.73H218V131.7H219V132.3H220V132.3H221V132.17H222V131.3H223V132.29H224V132.3H225V132.3H226V132.3H227V132.3H228V132.3H229V132.3H230V132.3H231V132.3H232V132.3H233V132.3H234V132.3H235V132.3H236V132.04H237V131.99H238V132.3H239V132.3H240V132.3H241V132.3H242V132.3H243V132.3H244V132.3H245V132.3H246V132.3H247V132.3H248V132.29H249V131.33H250V128.8H251V132.22H252V132.3Z" fill="#5a9c22"/>
<text x="82.6" y="126" font-size="7.56" fill="#5a9c22" stroke="#5a9c22" stroke-width="0.2" textLength="39.2" lengthAdjust="spacingAndGlyphs">H3K27ac_0h</text>
<line x1="50.8" y1="136.7" x2="50.8" y2="151.2" stroke="#5a9c22" stroke-width="0.6"/>
<line x1="49.6" y1="136.7" x2="50.8" y2="136.7" stroke="#5a9c22" stroke-width="0.5"/>
<text x="38.9" y="139.3" font-size="4.97" fill="#5a9c22" stroke="#5a9c22" stroke-width="0.06" textLength="9.1" lengthAdjust="spacingAndGlyphs">9.686</text>
<text x="45.8" y="152.2" font-size="4.97" fill="#5a9c22" stroke="#5a9c22" stroke-width="0.06" textLength="2.2" lengthAdjust="spacingAndGlyphs">0</text>
<path d="M55,151.2V151.2H56V151.2H57V151.2H58V151.2H59V151.2H60V151.2H61V151.2H62V151.2H63V151.2H64V151.2H65V151.2H66V151.2H67V151.2H68V151.2H69V151.2H70V150.47H71V149.2H72V147.2H73V143.7H74V145.7H75V145.2H76V148.2H77V149.7H78V151.2H79V151.2H80V151.2H81V150.93H82V151.2H83V151.2H84V151.2H85V151.2H86V150.78H87V150.77H88V150.74H89V151.2H90V151.04H91V151.05H92V151.2H93V151.2H94V151.2H95V151.2H96V150.71H97V151.2H98V151.2H99V151.2H100V151.2H101V151.2H102V151.2H103V151.2H104V151.2H105V150.72H106V150.65H107V150.68H108V151.2H109V151.2H110V151.2H111V151.2H112V151.2H113V151.2H114V151.2H115V150.97H116V150.98H117V151.2H118V151.2H119V151.2H120V150.91H121V150.94H122V150.89H123V151.2H124V151.2H125V151.2H126V150.89H127V150.88H128V146.2H129V148.96H130V151.18H131V151.2H132V151.2H133V151.2H134V151.2H135V151.2H136V151.2H137V150.82H138V150.85H139V150.84H140V150.62H141V150.36H142V149.7H143V151.19H144V151.2H145V151.2H146V151.2H147V151.2H148V151.2H149V150.82H150V150.82H151V151.2H152V151.2H153V151.2H154V151.2H155V151.2H156V151.2H157V150.41H158V147.7H159V150.68H160V150.65H161V150.69H162V151.2H163V151.2H164V151.2H165V151.2H166V151.2H167V151.2H168V151.2H169V151.2H170V151.2H171V151.2H172V151.2H173V150.95H174V151.2H175V150.68H176V148.14H177V147.98H178V147.2H179V148.31H180V150.71H181V150.65H182V151.2H183V151.2H184V150.79H185V150.82H186V151.19H187V150.71H188V150.2H189V151.19H190V151.2H191V151.2H192V151.2H193V150.83H194V150.89H195V150.83H196V151.2H197V151.2H198V151.2H199V151.2H200V151.19H201V148.82H202V148.2H203V147.86H204V145.2H205V148.47H206V147.2H207V148.73H208V146.2H209V149.05H210V147.2H211V145.2H212V150.55H213V143.2H214V148.63H215V146.2H216V149.2H217V150.99H218V151.2H219V151.2H220V151.2H221V150.77H222V150.2H223V151.2H224V151.2H225V151.2H226V151.2H227V150.89H228V150.92H229V151.2H230V151.2H231V151.2H232V151.2H233V151.2H234V151.2H235V151.2H236V151.2H237V151.2H238V151.2H239V150.95H240V150.95H241V151.2H242V151.2H243V151.2H244V150.75H245V150.79H246V150.77H247V151.2H248V151.2H249V150.5H250V148.7H251V151.14H252V151.2Z" fill="#5a9c22"/>
<text x="80.5" y="147" font-size="7.56" fill="#5a9c22" stroke="#5a9c22" stroke-width="0.2" textLength="43.3" lengthAdjust="spacingAndGlyphs">H3K27ac_72h</text>
<line x1="32.6" y1="151.3" x2="265.6" y2="151.3" stroke="#444" stroke-width="1.1"/>
<text x="37.8" y="158.5" font-size="7.99" fill="#1a1a1a" stroke="#1a1a1a" stroke-width="0.2" textLength="16" lengthAdjust="spacingAndGlyphs">hg19</text>
<rect x="49" y="160.5" width="1.5" height="3.7" fill="#fff59a"/>
<rect x="51.1" y="160.5" width="1" height="3.7" fill="#fff59a"/>
<rect x="53.1" y="160.5" width="1.2" height="3.7" fill="#fff59a"/>
<rect x="54.6" y="160.5" width="0.8" height="3.7" fill="#fffad0"/>
<rect x="56.4" y="160.5" width="1.2" height="3.7" fill="#fffad0"/>
<rect x="57.6" y="160.5" width="1" height="3.7" fill="#fff066"/>
<rect x="59.2" y="160.5" width="1.5" height="3.7" fill="#fffad0"/>
<rect x="63.6" y="160.5" width="1.5" height="3.7" fill="#fff59a"/>
<rect x="66.9" y="160.5" width="0.8" height="3.7" fill="#fff59a"/>
<rect x="67.7" y="160.5" width="1.5" height="3.7" fill="#fff066"/>
<rect x="70.2" y="160.5" width="1.5" height="3.7" fill="#fff59a"/>
<rect x="75.3" y="160.5" width="1.2" height="3.7" fill="#fffad0"/>
<rect x="77.1" y="160.5" width="1.2" height="3.7" fill="#fff59a"/>
<rect x="78.6" y="160.5" width="0.8" height="3.7" fill="#fff59a"/>
<rect x="79.4" y="160.5" width="0.8" height="3.7" fill="#fff59a"/>
<rect x="80.2" y="160.5" width="1.5" height="3.7" fill="#fff59a"/>
<rect x="81.7" y="160.5" width="1" height="3.7" fill="#fff066"/>
<rect x="83.3" y="160.5" width="0.8" height="3.7" fill="#fff59a"/>
<rect x="84.7" y="160.5" width="0.8" height="3.7" fill="#fff59a"/>
<rect x="85.8" y="160.5" width="1.2" height="3.7" fill="#fff59a"/>
<rect x="91.4" y="160.5" width="1" height="3.7" fill="#fff066"/>
<rect x="94.1" y="160.5" width="1" height="3.7" fill="#fffad0"/>
<rect x="95.1" y="160.5" width="1" height="3.7" fill="#fff59a"/>
<rect x="97.8" y="160.5" width="0.8" height="3.7" fill="#fff59a"/>
<rect x="99.6" y="160.5" width="1.5" height="3.7" fill="#fff59a"/>
<rect x="102.1" y="160.5" width="1" height="3.7" fill="#fff59a"/>
<rect x="103.1" y="160.5" width="1.2" height="3.7" fill="#fff59a"/>
<rect x="105.3" y="160.5" width="1" height="3.7" fill="#fff59a"/>
<rect x="106.9" y="160.5" width="0.8" height="3.7" fill="#fff066"/>
<rect x="107.7" y="160.5" width="1" height="3.7" fill="#fff59a"/>
<rect x="109.7" y="160.5" width="1" height="3.7" fill="#fff59a"/>
<rect x="111.7" y="160.5" width="0.8" height="3.7" fill="#fff59a"/>
<rect x="113.1" y="160.5" width="0.8" height="3.7" fill="#fff59a"/>
<rect x="113.9" y="160.5" width="1.5" height="3.7" fill="#fff59a"/>
<rect x="116" y="160.5" width="1.2" height="3.7" fill="#fff59a"/>
<rect x="117.5" y="160.5" width="0.8" height="3.7" fill="#fffad0"/>
<rect x="120.1" y="160.5" width="1" height="3.7" fill="#fff59a"/>
<rect x="121.1" y="160.5" width="1.2" height="3.7" fill="#fff59a"/>
<rect x="123.3" y="160.5" width="0.8" height="3.7" fill="#fff59a"/>
<rect x="125.1" y="160.5" width="1" height="3.7" fill="#fff59a"/>
<rect x="126.7" y="160.5" width="0.8" height="3.7" fill="#fffad0"/>
<rect x="127.5" y="160.5" width="1.2" height="3.7" fill="#fffad0"/>
<rect x="129.7" y="160.5" width="1.2" height="3.7" fill="#fffad0"/>
<rect x="131.9" y="160.5" width="1.5" height="3.7" fill="#fffad0"/>
<rect x="134" y="160.5" width="1.5" height="3.7" fill="#fff59a"/>
<rect x="135.5" y="160.5" width="1" height="3.7" fill="#fff59a"/>
<rect x="139.3" y="160.5" width="1.2" height="3.7" fill="#fffad0"/>
<rect x="141.1" y="160.5" width="1" height="3.7" fill="#fff59a"/>
<rect x="142.4" y="160.5" width="1.5" height="3.7" fill="#fffad0"/>
<rect x="144.2" y="160.5" width="1.5" height="3.7" fill="#fff59a"/>
<rect x="148.1" y="160.5" width="1.2" height="3.7" fill="#fffad0"/>
<rect x="152" y="160.5" width="1" height="3.7" fill="#fffad0"/>
<rect x="153.3" y="160.5" width="1.2" height="3.7" fill="#fff59a"/>
<rect x="155.1" y="160.5" width="1.2" height="3.7" fill="#fff066"/>
<rect x="159" y="160.5" width="1" height="3.7" fill="#fff066"/>
<rect x="160" y="160.5" width="1.5" height="3.7" fill="#fff59a"/>
<rect x="162.1" y="160.5" width="1.2" height="3.7" fill="#fff59a"/>
<rect x="166.1" y="160.5" width="1" height="3.7" fill="#fff59a"/>
<rect x="167.1" y="160.5" width="1.2" height="3.7" fill="#fffad0"/>
<rect x="168.9" y="160.5" width="1.2" height="3.7" fill="#fff59a"/>
<rect x="170.4" y="160.5" width="0.8" height="3.7" fill="#fffad0"/>
<rect x="171.2" y="160.5" width="1" height="3.7" fill="#fffad0"/>
<rect x="174.4" y="160.5" width="0.8" height="3.7" fill="#fffad0"/>
<rect x="175.8" y="160.5" width="1.5" height="3.7" fill="#fff59a"/>
<rect x="177.3" y="160.5" width="0.8" height="3.7" fill="#fff59a"/>
<rect x="179.1" y="160.5" width="1.2" height="3.7" fill="#fff066"/>
<rect x="182.8" y="160.5" width="1.2" height="3.7" fill="#fffad0"/>
<rect x="185" y="160.5" width="1.2" height="3.7" fill="#fff066"/>
<rect x="190.4" y="160.5" width="1.2" height="3.7" fill="#fffad0"/>
<rect x="193.4" y="160.5" width="1" height="3.7" fill="#fff066"/>
<rect x="194.4" y="160.5" width="1" height="3.7" fill="#fff59a"/>
<rect x="195.7" y="160.5" width="1.5" height="3.7" fill="#fff59a"/>
<rect x="197.8" y="160.5" width="1" height="3.7" fill="#fff066"/>
<rect x="200.8" y="160.5" width="1" height="3.7" fill="#fff59a"/>
<rect x="202.1" y="160.5" width="1.2" height="3.7" fill="#fffad0"/>
<rect x="203.3" y="160.5" width="1.5" height="3.7" fill="#fff59a"/>
<rect x="205.8" y="160.5" width="1.2" height="3.7" fill="#fff59a"/>
<rect x="208" y="160.5" width="1.2" height="3.7" fill="#fff59a"/>
<rect x="209.8" y="160.5" width="0.8" height="3.7" fill="#fff59a"/>
<rect x="213.2" y="160.5" width="1.2" height="3.7" fill="#fff59a"/>
<rect x="214.4" y="160.5" width="0.8" height="3.7" fill="#fff066"/>
<rect x="216.2" y="160.5" width="1" height="3.7" fill="#fffad0"/>
<rect x="217.8" y="160.5" width="1.5" height="3.7" fill="#fff59a"/>
<rect x="222.1" y="160.5" width="0.8" height="3.7" fill="#fff59a"/>
<rect x="223.2" y="160.5" width="1.2" height="3.7" fill="#fff59a"/>
<rect x="225" y="160.5" width="1" height="3.7" fill="#fff59a"/>
<rect x="227" y="160.5" width="0.8" height="3.7" fill="#fff066"/>
<rect x="231" y="160.5" width="1" height="3.7" fill="#fffad0"/>
<rect x="233.7" y="160.5" width="1" height="3.7" fill="#fff066"/>
<rect x="234.7" y="160.5" width="1" height="3.7" fill="#fff59a"/>
<rect x="236.3" y="160.5" width="1.5" height="3.7" fill="#fff59a"/>
<rect x="238.8" y="160.5" width="1.5" height="3.7" fill="#fff59a"/>
<rect x="240.9" y="160.5" width="1" height="3.7" fill="#fff59a"/>
<rect x="242.9" y="160.5" width="1.2" height="3.7" fill="#fff59a"/>
<rect x="244.4" y="160.5" width="0.8" height="3.7" fill="#fff066"/>
<rect x="245.8" y="160.5" width="1.5" height="3.7" fill="#fff59a"/>
<rect x="248.3" y="160.5" width="1" height="3.7" fill="#fff59a"/>
<rect x="250.3" y="160.5" width="1.2" height="3.7" fill="#fff59a"/>
<rect x="49.3" y="160.5" width="1" height="3.7" fill="#f6c25a"/>
<rect x="52" y="160.5" width="1" height="3.7" fill="#f6c25a"/>
<rect x="54" y="160.5" width="1" height="3.7" fill="#f6c25a"/>
<rect x="56.6" y="160.5" width="1" height="3.7" fill="#fff066"/>
<rect x="58.5" y="160.5" width="1" height="3.7" fill="#f6c25a"/>
<rect x="60" y="160.5" width="1" height="3.7" fill="#fff066"/>
<rect x="68.5" y="160.5" width="3.5" height="3.7" fill="#ffe61e"/>
<rect x="70.2" y="160.5" width="1" height="3.7" fill="#f6c25a"/>
<rect x="71.2" y="160.5" width="1" height="3.7" fill="#f6c25a"/>
<rect x="73" y="160.5" width="4" height="3.7" fill="#fff066"/>
<rect x="82" y="160.5" width="1" height="3.7" fill="#f6c25a"/>
<rect x="87" y="160.5" width="0.8" height="3.7" fill="#ec9a3c"/>
<rect x="89" y="160.5" width="3" height="3.7" fill="#fff59a"/>
<rect x="94" y="160.5" width="1" height="3.7" fill="#fff066"/>
<rect x="104" y="160.5" width="1" height="3.7" fill="#e25a24"/>
<rect x="108" y="160.5" width="2" height="3.7" fill="#fff066"/>
<rect x="112.5" y="160.5" width="1" height="3.7" fill="#f6c25a"/>
<rect x="115" y="160.5" width="2.5" height="3.7" fill="#fff066"/>
<rect x="118.5" y="160.5" width="1" height="3.7" fill="#f6c25a"/>
<rect x="122" y="160.5" width="1" height="3.7" fill="#fff066"/>
<rect x="126" y="160.5" width="4" height="3.7" fill="#ffe61e"/>
<rect x="127" y="160.5" width="1" height="3.7" fill="#ec9a3c"/>
<rect x="129.5" y="160.5" width="1" height="3.7" fill="#e25a24"/>
<rect x="131" y="160.5" width="1" height="3.7" fill="#e25a24"/>
<rect x="142" y="160.5" width="4" height="3.7" fill="#ffe61e"/>
<rect x="143" y="160.5" width="1" height="3.7" fill="#f6c25a"/>
<rect x="145" y="160.5" width="1" height="3.7" fill="#f6c25a"/>
<rect x="148" y="160.5" width="1" height="3.7" fill="#fff066"/>
<rect x="154" y="160.5" width="1" height="3.7" fill="#fff066"/>
<rect x="157" y="160.5" width="1" height="3.7" fill="#ffe61e"/>
<rect x="160" y="160.5" width="4" height="3.7" fill="#ffe61e"/>
<rect x="161" y="160.5" width="1" height="3.7" fill="#f6c25a"/>
<rect x="163" y="160.5" width="1" height="3.7" fill="#f6c25a"/>
<rect x="170" y="160.5" width="1" height="3.7" fill="#fff066"/>
<rect x="171.5" y="160.5" width="1" height="3.7" fill="#e25a24"/>
<rect x="173" y="160.5" width="1" height="3.7" fill="#ec9a3c"/>
<rect x="176" y="160.5" width="1" height="3.7" fill="#ffe61e"/>
<rect x="178.7" y="160.5" width="1" height="3.7" fill="#ffe61e"/>
<rect x="181" y="160.5" width="1" height="3.7" fill="#ffe61e"/>
<rect x="182.5" y="160.5" width="1.5" height="3.7" fill="#fff066"/>
<rect x="186" y="160.5" width="1" height="3.7" fill="#f6c25a"/>
<rect x="189" y="160.5" width="1" height="3.7" fill="#fff066"/>
<rect x="200" y="160.5" width="1" height="3.7" fill="#ea8a7a"/>
<rect x="204" y="160.5" width="1" height="3.7" fill="#ffe61e"/>
<rect x="206" y="160.5" width="3" height="3.7" fill="#ffe61e"/>
<rect x="207" y="160.5" width="1" height="3.7" fill="#f6c25a"/>
<rect x="208.5" y="160.5" width="1" height="3.7" fill="#f6c25a"/>
<rect x="211" y="160.5" width="1" height="3.7" fill="#fff066"/>
<rect x="214" y="160.5" width="1" height="3.7" fill="#fff066"/>
<rect x="224" y="160.5" width="1" height="3.7" fill="#fff066"/>
<rect x="231" y="160.5" width="3" height="3.7" fill="#f6c25a"/>
<rect x="232.3" y="160.5" width="1" height="3.7" fill="#ec9a3c"/>
<rect x="236" y="160.5" width="2.5" height="3.7" fill="#ffe61e"/>
<rect x="237" y="160.5" width="1" height="3.7" fill="#f6c25a"/>
<rect x="240" y="160.5" width="1" height="3.7" fill="#fff066"/>
<line x1="52.8" y1="168.8" x2="255.8" y2="168.8" stroke="#444" stroke-width="0.6"/>
<rect x="52.2" y="168.2" width="1.2" height="1.2" fill="#333"/>
<rect x="62.4" y="168.2" width="1.2" height="1.2" fill="#333"/>
<rect x="80.4" y="168.2" width="1.2" height="1.2" fill="#333"/>
<rect x="92.4" y="168.2" width="1.2" height="1.2" fill="#333"/>
<rect x="103.4" y="168.2" width="1.2" height="1.2" fill="#333"/>
<rect x="125.4" y="168.2" width="1.2" height="1.2" fill="#333"/>
<rect x="135.4" y="168.2" width="1.2" height="1.2" fill="#333"/>
<rect x="145.4" y="168.2" width="1.2" height="1.2" fill="#333"/>
<rect x="161.4" y="168.2" width="1.2" height="1.2" fill="#333"/>
<rect x="171.4" y="168.2" width="1.2" height="1.2" fill="#333"/>
<rect x="181.4" y="168.2" width="1.2" height="1.2" fill="#333"/>
<rect x="201.4" y="168.2" width="1.2" height="1.2" fill="#333"/>
<rect x="211.4" y="168.2" width="1.2" height="1.2" fill="#333"/>
<rect x="221.4" y="168.2" width="1.2" height="1.2" fill="#333"/>
<rect x="244.4" y="168.2" width="1.2" height="1.2" fill="#333"/>
<rect x="73" y="166.8" width="1" height="4" fill="#1515a8"/>
<rect x="114.9" y="166.8" width="1" height="4" fill="#1515a8"/>
<rect x="150.7" y="166.8" width="1" height="4" fill="#1515a8"/>
<rect x="190.2" y="166.8" width="1" height="4" fill="#1515a8"/>
<rect x="224.8" y="166.8" width="1" height="4" fill="#1515a8"/>
<rect x="227.6" y="166.8" width="1" height="4" fill="#1515a8"/>
<rect x="249.1" y="166.8" width="1" height="4" fill="#1515a8"/>
<rect x="230.2" y="167.3" width="8.6" height="3" fill="#1515a8"/>
<rect x="230.2" y="166.4" width="1.6" height="4.8" fill="#1515a8"/>
<text x="42.5" y="177.7" font-size="7.78" fill="#1a1a1a" stroke="#1a1a1a" stroke-width="0.2" textLength="35.7" lengthAdjust="spacingAndGlyphs">NR_110088</text>
<text x="147" y="178.8" font-size="7.78" fill="#1a1a1a" stroke="#1a1a1a" stroke-width="0.2" textLength="17.6" lengthAdjust="spacingAndGlyphs">CDK6</text>
<text x="229.8" y="178.5" font-size="7.78" fill="#1a1a1a" stroke="#1a1a1a" stroke-width="0.2" textLength="29.2" lengthAdjust="spacingAndGlyphs">FAM133B</text>
<line x1="48.2" y1="183" x2="48.2" y2="197.6" stroke="#8e0f12" stroke-width="0.6"/>
<line x1="47" y1="183" x2="48.2" y2="183" stroke="#8e0f12" stroke-width="0.5"/>
<text x="36.6" y="185.6" font-size="4.97" fill="#8e0f12" stroke="#8e0f12" stroke-width="0.06" textLength="9.2" lengthAdjust="spacingAndGlyphs">1.029</text>
<text x="43.6" y="198.6" font-size="4.97" fill="#8e0f12" stroke="#8e0f12" stroke-width="0.06" textLength="2.2" lengthAdjust="spacingAndGlyphs">0</text>
<path d="M53,197.6V196.32H54V196.27H55V196.44H56V197.6H57V196.23H58V197.6H59V196.56H60V195.6H61V197.6H62V197.6H63V196.18H64V196.38H65V197.6H66V197.6H67V195.75H68V197.6H69V195.75H70V195.8H71V195.64H72V197.6H73V196.06H74V196.59H75V195.1H76V197.6H77V196.74H78V196.65H79V196.76H80V197.6H81V197.6H82V197.6H83V197.6H84V197.6H85V195.9H86V196.1H87V197.6H88V197.6H89V196.39H90V195.6H91V196.53H92V197.6H93V197.6H94V196.8H95V197.6H96V197.6H97V196.09H98V196.23H99V197.6H100V196.76H101V197.6H102V197.02H103V197.04H104V197.03H105V197.6H106V197.6H107V195.82H108V197.6H109V196.37H110V196.5H111V196.46H112V196.45H113V196.51H114V196.39H115V197.6H116V197.6H117V197.6H118V197.6H119V196.84H120V195.6H121V197.6H122V197.6H123V197.6H124V195.87H125V195.79H126V195.9H127V197.6H128V195.89H129V195.91H130V196.07H131V197.6H132V196.57H133V197.6H134V197.02H135V196.98H136V196.97H137V196.61H138V196.6H139V196.58H140V195.1H141V196.33H142V196.4H143V196.45H144V197.6H145V197.6H146V196.22H147V196.44H148V197.6H149V196.63H150V197.6H151V197.6H152V195.58H153V195.67H154V197.6H155V196.6H156V196.6H157V197.6H158V195.86H159V195.51H160V195.52H161V196.88H162V197.6H163V195.9H164V196.12H165V195.88H166V197.6H167V197.6H168V197.6H169V197.6H170V197.6H171V197.6H172V197.6H173V195.84H174V195.77H175V197.6H176V196.54H177V196.6H178V197.59H179V196.56H180V195.6H181V197.59H182V196.21H183V196.1H184V197.6H185V196.03H186V196.16H187V195.88H188V196.29H189V196.26H190V196.06H191V196.02H192V197.6H193V197.6H194V197.59H195V196.48H196V195.6H197V196.74H198V196.86H199V196.84H200V197.6H201V197.6H202V195.92H203V196.08H204V195.92H205V197.6H206V196.89H207V196.2H208V195.1H209V195.5H210V195.51H211V195.53H212V195.59H213V182.9H214V195.79H215V195.72H216V196.85H217V193.6H218V196.82H219V196.9H220V196.89H221V197.6H222V197.02H223V196.94H224V196.99H225V195.64H226V194.6H227V197.53H228V197.6H229V196.59H230V196.48H231V196.57H232V196.11H233V196.21H234V196.32H235V196.83H236V195.6H237V196.95H238V197.6H239V197.6H240V196.87H241V196.4H242V196.59H243V195.72H244V195.9H245V197.6H246V196.66H247V195.6H248V196.72H249V196.74H250V196.77H251V197.6H252V196.37H253V197.6Z" fill="#8e0f12"/>
<text x="89" y="188.5" font-size="7.56" fill="#8e0f12" stroke="#8e0f12" stroke-width="0.2" textLength="20" lengthAdjust="spacingAndGlyphs">Hoxa9</text>
<rect x="278.3" y="21.2" width="233.7" height="178" fill="none" stroke="#5c5c5c" stroke-width="1.3" rx="0.8"/>
<text x="282.9" y="31.5" font-size="7.99" fill="#1a1a1a" stroke="#1a1a1a" stroke-width="0.2" textLength="20.1" lengthAdjust="spacingAndGlyphs">mm10</text>
<line x1="295.2" y1="29" x2="295.2" y2="32.4" stroke="#555" stroke-width="0.6"/>
<line x1="372.3" y1="29" x2="372.3" y2="32.4" stroke="#555" stroke-width="0.6"/>
<line x1="449.2" y1="29" x2="449.2" y2="32.4" stroke="#555" stroke-width="0.6"/>
<text x="298.5" y="35.8" font-size="5.62" fill="#333" stroke="#333" stroke-width="0.06" textLength="24.5" lengthAdjust="spacingAndGlyphs">144,930 kb</text>
<text x="437.1" y="28.3" font-size="5.62" fill="#333" stroke="#333" stroke-width="0.06" textLength="24.6" lengthAdjust="spacingAndGlyphs">144,940 kb</text>
<rect x="284" y="38.2" width="6" height="4.3" fill="#fffad0"/>
<rect x="299" y="38.2" width="5" height="4.3" fill="#f6c25a"/>
<rect x="303" y="38.2" width="2" height="4.3" fill="#f6c25a"/>
<rect x="306" y="38.2" width="3" height="4.3" fill="#ffe61e"/>
<rect x="311" y="38.2" width="3" height="4.3" fill="#f6c25a"/>
<rect x="318" y="38.2" width="3" height="4.3" fill="#ffe61e"/>
<rect x="328" y="38.2" width="3" height="4.3" fill="#f6c25a"/>
<rect x="333" y="38.2" width="2" height="4.3" fill="#f6c25a"/>
<rect x="372" y="38.2" width="24" height="4.3" fill="#fffad0"/>
<rect x="398" y="38.2" width="2" height="4.3" fill="#fff59a"/>
<rect x="404" y="38.2" width="14" height="4.3" fill="#fff59a"/>
<rect x="422" y="38.2" width="10" height="4.3" fill="#fffad0"/>
<rect x="436" y="38.2" width="14" height="4.3" fill="#fff59a"/>
<rect x="455" y="38.2" width="9" height="4.3" fill="#fffad0"/>
<rect x="466" y="38.2" width="18" height="4.3" fill="#fffad0"/>
<rect x="281.8" y="38.2" width="1.9" height="4.3" fill="#fffad0"/>
<rect x="288.6" y="38.2" width="1.9" height="4.3" fill="#ffe61e"/>
<rect x="293.6" y="38.2" width="2.2" height="4.3" fill="#e25a24"/>
<rect x="295.2" y="38.2" width="2.1" height="4.3" fill="#ec9a3c"/>
<rect x="298" y="38.2" width="3.5" height="4.3" fill="#dc1c14"/>
<rect x="303.4" y="38.2" width="3.9" height="4.3" fill="#dc1c14"/>
<rect x="307.4" y="38.2" width="1.7" height="4.3" fill="#ffe61e"/>
<rect x="309.8" y="38.2" width="1.7" height="4.3" fill="#ffe61e"/>
<rect x="313.8" y="38.2" width="2.9" height="4.3" fill="#e25a24"/>
<rect x="317.2" y="38.2" width="1.7" height="4.3" fill="#ffe61e"/>
<rect x="319.9" y="38.2" width="3.5" height="4.3" fill="#f6c25a"/>
<rect x="324.4" y="38.2" width="2.3" height="4.3" fill="#ffe61e"/>
<rect x="326" y="38.2" width="1.9" height="4.3" fill="#f6c25a"/>
<rect x="327.4" y="38.2" width="3.5" height="4.3" fill="#ec9a3c"/>
<rect x="331.4" y="38.2" width="2.9" height="4.3" fill="#ec9a3c"/>
<rect x="334.8" y="38.2" width="3.5" height="4.3" fill="#e25a24"/>
<rect x="340.1" y="38.2" width="7.4" height="4.3" fill="#fff59a"/>
<rect x="347.6" y="38.2" width="2.4" height="4.3" fill="#ec9a3c"/>
<rect x="351.4" y="38.2" width="1.9" height="4.3" fill="#ffe61e"/>
<rect x="356.8" y="38.2" width="2.1" height="4.3" fill="#dc1c14"/>
<rect x="359.8" y="38.2" width="2.3" height="4.3" fill="#fffad0"/>
<rect x="372.4" y="38.2" width="1.9" height="4.3" fill="#fff59a"/>
<rect x="375.8" y="38.2" width="4.9" height="4.3" fill="#ffe61e"/>
<rect x="380.8" y="38.2" width="2.1" height="4.3" fill="#fff59a"/>
<rect x="383.1" y="38.2" width="2.1" height="4.3" fill="#fff066"/>
<rect x="389.1" y="38.2" width="1.9" height="4.3" fill="#fff066"/>
<rect x="393.4" y="38.2" width="1.9" height="4.3" fill="#fffad0"/>
<rect x="401.2" y="38.2" width="2.1" height="4.3" fill="#ec9a3c"/>
<rect x="407.8" y="38.2" width="2.3" height="4.3" fill="#dc1c14"/>
<rect x="412" y="38.2" width="1.9" height="4.3" fill="#ffe61e"/>
<rect x="416.6" y="38.2" width="2.5" height="4.3" fill="#dc1c14"/>
<rect x="420.6" y="38.2" width="1.9" height="4.3" fill="#ffe61e"/>
<rect x="424.4" y="38.2" width="1.9" height="4.3" fill="#f6c25a"/>
<rect x="427.4" y="38.2" width="1.9" height="4.3" fill="#ffe61e"/>
<rect x="430.4" y="38.2" width="1.9" height="4.3" fill="#ffe61e"/>
<rect x="432.8" y="38.2" width="1.9" height="4.3" fill="#ec9a3c"/>
<rect x="435.4" y="38.2" width="2.1" height="4.3" fill="#dc1c14"/>
<rect x="437.6" y="38.2" width="1.9" height="4.3" fill="#f6c25a"/>
<rect x="440.6" y="38.2" width="2.9" height="4.3" fill="#dc1c14"/>
<rect x="444.2" y="38.2" width="4.5" height="4.3" fill="#dc1c14"/>
<rect x="449.4" y="38.2" width="3.7" height="4.3" fill="#ffe61e"/>
<rect x="455.4" y="38.2" width="2.1" height="4.3" fill="#dc1c14"/>
<rect x="458.4" y="38.2" width="1.9" height="4.3" fill="#ffe61e"/>
<rect x="460.6" y="38.2" width="2.9" height="4.3" fill="#fffad0"/>
<rect x="465.2" y="38.2" width="2.1" height="4.3" fill="#fff59a"/>
<rect x="469.2" y="38.2" width="2.2" height="4.3" fill="#ec9a3c"/>
<rect x="473.2" y="38.2" width="2.3" height="4.3" fill="#e25a24"/>
<rect x="477" y="38.2" width="1.9" height="4.3" fill="#ffe61e"/>
<rect x="480.4" y="38.2" width="3.9" height="4.3" fill="#fff066"/>
<line x1="294.2" y1="47.4" x2="448" y2="47.4" stroke="#444" stroke-width="0.6"/>
<rect x="345.4" y="46.8" width="1.2" height="1.2" fill="#333"/>
<rect x="363.4" y="46.8" width="1.2" height="1.2" fill="#333"/>
<rect x="379.4" y="46.8" width="1.2" height="1.2" fill="#333"/>
<rect x="391.4" y="46.8" width="1.2" height="1.2" fill="#333"/>
<rect x="399.4" y="46.8" width="1.2" height="1.2" fill="#333"/>
<rect x="413.4" y="46.8" width="1.2" height="1.2" fill="#333"/>
<rect x="423.4" y="46.8" width="1.2" height="1.2" fill="#333"/>
<rect x="431.4" y="46.8" width="1.2" height="1.2" fill="#333"/>
<rect x="439.4" y="46.8" width="1.2" height="1.2" fill="#333"/>
<rect x="294.2" y="45.8" width="42" height="3.2" fill="#1515a8"/>
<rect x="335.2" y="45" width="2.3" height="4.8" fill="#1515a8"/>
<rect x="323" y="45" width="1.2" height="4.8" fill="#1515a8"/>
<rect x="357" y="44.3" width="2.6" height="5.7" fill="#1515a8"/>
<rect x="407.4" y="44.3" width="2.4" height="5.7" fill="#1515a8"/>
<rect x="416.5" y="44.3" width="3.8" height="5.7" fill="#1515a8"/>
<path d="M441.8,44.6 H445.3 V45.9 L448.1,46 V48.8 L445.3,48.9 V50.1 H441.8 Z" fill="#1515a8"/>
<text x="323.8" y="57.4" font-size="9.29" fill="#1a1a1a" stroke="#1a1a1a" stroke-width="0.2" textLength="22.2" lengthAdjust="spacingAndGlyphs">Ccnd1</text>
<line x1="281" y1="73.3" x2="509.6" y2="73.3" stroke="#dedade" stroke-width="0.9"/>
<path d="M283,73.3V72.49H284V73.3H285V73.3H286V72.57H287V72.6H288V73.3H289V73.3H290V73.3H291V73.3H292V73.3H293V73.3H294V72.44H295V73.3H296V72.85H297V72.84H298V72.89H299V72.84H300V73.3H301V73.3H302V73.3H303V72.46H304V72.48H305V73.3H306V72.62H307V72.7H308V72.6H309V72.59H310V73.3H311V73.3H312V73.3H313V73.3H314V73.3H315V73.3H316V72.13H317V71.97H318V73.3H319V73.3H320V73.3H321V73.3H322V73.3H323V73.3H324V73.3H325V72.11H326V72.11H327V72.08H328V73.3H329V73.3H330V73.3H331V73.23H332V71.84H333V71.3H334V71.99H335V73.29H336V73.3H337V73.3H338V73.3H339V73.3H340V73.3H341V73.3H342V73.3H343V73.3H344V73.3H345V73.3H346V73.3H347V72.29H348V73.3H349V73.3H350V72.72H351V72.66H352V72.64H353V73.3H354V73.3H355V73.3H356V73.3H357V73.3H358V73.3H359V73.3H360V73.3H361V73.3H362V73.3H363V72.35H364V72.34H365V72.35H366V72.43H367V73.3H368V73.3H369V73.3H370V73.3H371V73.3H372V73.3H373V71.82H374V73.3H375V72.04H376V72.06H377V72.41H378V72.3H379V72.16H380V71.99H381V73.3H382V73.3H383V73.3H384V73.3H385V73.3H386V73.3H387V72.68H388V73.3H389V73.3H390V73.3H391V73.3H392V73.3H393V73.3H394V73.3H395V73.3H396V73.3H397V73.3H398V73.3H399V73.3H400V72.58H401V72.42H402V73.3H403V71.94H404V71.8H405V73.3H406V73.3H407V73.3H408V73.3H409V71.97H410V71.8H411V73.3H412V72.25H413V73.3H414V73.3H415V72.08H416V71.8H417V72.29H418V73.3H419V73.3H420V72.13H421V71.8H422V73.3H423V73.3H424V72.15H425V72.05H426V71.8H427V73.3H428V73.3H429V73.3H430V73.3H431V73.3H432V73.3H433V73.2H434V72.09H435V71.3H436V72.42H437V72.45H438V73.3H439V73.3H440V73.3H441V73.3H442V73.3H443V73.3H444V73.3H445V73.3H446V73.3H447V72.35H448V72.18H449V72.22H450V73.3H451V73.3H452V73.3H453V72.13H454V71.54H455V70.8H456V73.17H457V73.22H458V72.28H459V71.8H460V72.55H461V71.68H462V71.3H463V73.17H464V72.04H465V71.3H466V73.19H467V71.16H468V69.3H469V66.3H470V66.37H471V57.8H472V64.3H473V62.3H474V67.3H475V66.3H476V70.3H477V69.3H478V71.8H479V71.81H480V72.07H481V72.3H482V73.29H483V73.3Z" fill="#8e0f12"/>
<text x="297.2" y="65" font-size="7.56" fill="#8e0f12" stroke="#8e0f12" stroke-width="0.2" textLength="20" lengthAdjust="spacingAndGlyphs">Hoxa9</text>
<line x1="281" y1="92.8" x2="509.6" y2="92.8" stroke="#dedade" stroke-width="0.9"/>
<rect x="281.5" y="91.8" width="1.2" height="1" fill="#c0163f"/>
<rect x="284.5" y="91.8" width="1.2" height="1" fill="#c0163f"/>
<rect x="288.5" y="91.8" width="1.2" height="1" fill="#c0163f"/>
<rect x="291" y="91.8" width="1.2" height="1" fill="#c0163f"/>
<path d="M293,92.8V92.28H294V89.29H295V88.99H296V88.2H297V88.98H298V88.8H299V89.32H300V89.21H301V89.37H302V90.95H303V90.94H304V90.83H305V90.69H306V90.74H307V90.8H308V90.7H309V90.4H310V90H311V90.91H312V91H313V90.64H314V90.69H315V90.98H316V90.99H317V90.68H318V90.3H319V90.91H320V90.69H321V90.87H322V90.82H323V90.67H324V90.2H325V90H326V90.93H327V90.98H328V90.93H329V90.69H330V90.74H331V90.04H332V88.2H333V90.67H334V89.66H335V89.3H336V90.83H337V90.76H338V92.8H339V92.8H340V92.8H341V92.33H342V92.3H343V92.28H344V92.8H345V92.8H346V92.8H347V92.8H348V92.8H349V92.8H350V92.8H351V92.8H352V92.8H353V92.8H354V92.8H355V92.79H356V92.28H357V91.8H358V92.41H359V92.38H360V92.8H361V92.8H362V92.8H363V92.8H364V92.8H365V92.8H366V92.8H367V92.8H368V92.8H369V92.8H370V92.8H371V92.8H372V92.8H373V92.8H374V92.8H375V92.8H376V92.8H377V92.25H378V92.25H379V92.28H380V92.8H381V92.8H382V92.8H383V92.8H384V92.8H385V92.8H386V92.8H387V92.8H388V92.8H389V92.8H390V92.8H391V92.8H392V92.54H393V92.8H394V92.8H395V92.26H396V90.84H397V90.8H398V91.78H399V89.69H400V89.3H401V91.63H402V88.8H403V91.75H404V88.4H405V87.3H406V89.8H407V90.67H408V84.8H409V87.8H410V91.23H411V92.13H412V92.15H413V92.8H414V92.6H415V88.6H416V88.3H417V87.99H418V86.8H419V87.8H420V90.74H421V92.62H422V92.8H423V92.8H424V92.8H425V91.96H426V92.01H427V91.85H428V92.8H429V92.8H430V92.8H431V92.8H432V92.8H433V92.8H434V92.8H435V92.8H436V92.8H437V92.8H438V91.88H439V92.8H440V92.8H441V88.44H442V88.63H443V87.38H444V82.8H445V76.8H446V83.8H447V88.8H448V91.94H449V91.99H450V92.79H451V92.22H452V91.8H453V92.8Z" fill="#c0163f"/>
<text x="294.6" y="85.8" font-size="7.56" fill="#c0163f" stroke="#c0163f" stroke-width="0.2" textLength="25.4" lengthAdjust="spacingAndGlyphs">RNA_0h</text>
<line x1="281" y1="112.5" x2="509.6" y2="112.5" stroke="#dedade" stroke-width="0.9"/>
<rect x="281.5" y="111.5" width="1.2" height="1" fill="#c0163f"/>
<rect x="285.5" y="111.5" width="1.2" height="1" fill="#c0163f"/>
<rect x="289" y="111.5" width="1.2" height="1" fill="#c0163f"/>
<path d="M292,112.5V112.5H293V110.09H294V110.07H295V110.33H296V110.04H297V109.7H298V110.44H299V110.31H300V110.05H301V110.39H302V111.32H303V111.42H304V111.34H305V111.51H306V111.46H307V111.44H308V111.3H309V111.14H310V110.9H311V111.36H312V111.5H313V111.39H314V111.33H315V111.32H316V111.36H317V111.48H318V110.5H319V111.41H320V111.35H321V111.39H322V111.49H323V111.4H324V111.32H325V111.43H326V111.51H327V111.33H328V111.46H329V111.32H330V111.42H331V111.41H332V111.32H333V111.46H334V111.36H335V111.31H336V111.45H337V111.48H338V111.89H339V112.5H340V112.5H341V112.5H342V112.18H343V112.14H344V112.5H345V112.5H346V112.5H347V112.5H348V112.23H349V112.22H350V112.5H351V112.5H352V112.5H353V112.5H354V112.5H355V112.5H356V112.2H357V112.5H358V112.5H359V112.18H360V112.5H361V112.5H362V112.5H363V112.5H364V112.5H365V112.5H366V112.5H367V112.5H368V112.5H369V112.5H370V112.5H371V112.04H372V112.08H373V112.5H374V112.5H375V111.87H376V111.81H377V111.82H378V112.5H379V112.5H380V112.5H381V112.5H382V112.5H383V112.5H384V112.5H385V112.5H386V112.5H387V112.5H388V112.5H389V112.5H390V112.5H391V112.5H392V112.5H393V112.5H394V112.5H395V112.5H396V112.5H397V112.5H398V112.43H399V111.5H400V112.34H401V112.5H402V112.5H403V112.42H404V111.52H405V111H406V112.42H407V112.42H408V111.57H409V111H410V112.16H411V112.5H412V112.5H413V112.5H414V111.95H415V111.99H416V111.97H417V111.14H418V110.5H419V112.38H420V112.5H421V112.5H422V112.5H423V112.5H424V112.5H425V112.5H426V112.5H427V112.5H428V112.5H429V112.5H430V112.5H431V112.5H432V112.5H433V112.5H434V112.5H435V112.5H436V112.5H437V112.5H438V112.5H439V112.5H440V112.5H441V112.39H442V111.25H443V110.5H444V112.15H445V111.1H446V110.5H447V112.17H448V112.21H449V112.22H450V112.5H451V112.26H452V111.9H453V112.5Z" fill="#c0163f"/>
<text x="293" y="105.8" font-size="7.56" fill="#c0163f" stroke="#c0163f" stroke-width="0.2" textLength="28.5" lengthAdjust="spacingAndGlyphs">RNA_72h</text>
<line x1="281" y1="132.3" x2="509.6" y2="132.3" stroke="#dedade" stroke-width="0.9"/>
<path d="M283,132.3V132.3H284V132.3H285V132.3H286V132.3H287V132.3H288V131.99H289V131.5H290V132.3H291V132.3H292V132.3H293V132.3H294V132.3H295V132.3H296V132.3H297V132.3H298V132.3H299V132H300V131.5H301V132.3H302V132.3H303V132.3H304V132.3H305V132.3H306V132H307V132.04H308V132.01H309V132.1H310V131.3H311V132.26H312V132.3H313V132.3H314V132.3H315V132.3H316V132.3H317V132.3H318V132.14H319V130.8H320V132.16H321V132.3H322V131.92H323V131.96H324V132.3H325V132.3H326V132.3H327V132.3H328V132.3H329V130.23H330V130.36H331V129.3H332V130.48H333V130.4H334V129.74H335V128.3H336V130.49H337V130.52H338V130.13H339V127.8H340V130.45H341V130.48H342V129.3H343V130.26H344V130.31H345V132.3H346V132.3H347V132.3H348V131.56H349V131.58H350V131.69H351V132.3H352V132.3H353V132.3H354V132.3H355V132.3H356V132.3H357V132.3H358V131.92H359V132.3H360V131.7H361V131.79H362V132.3H363V132.3H364V132.3H365V132.3H366V132.3H367V132.3H368V132.3H369V132.3H370V132.3H371V132.3H372V132.3H373V132.3H374V132.3H375V132.3H376V132.3H377V132.3H378V132.3H379V132.3H380V132.3H381V132.3H382V132.3H383V132.3H384V132.3H385V132.3H386V132.3H387V132.3H388V132.3H389V132.3H390V132.3H391V132.3H392V132.3H393V132.3H394V132.3H395V131.95H396V131.86H397V131.87H398V132.3H399V132.3H400V132.3H401V132.3H402V132.3H403V132.3H404V132.3H405V132.3H406V131.68H407V131.65H408V131.6H409V131.36H410V131.1H411V132.3H412V132.3H413V132.3H414V132.29H415V131.15H416V130.3H417V130.8H418V129.3H419V131.12H420V129.8H421V130.15H422V128.3H423V130.64H424V129.3H425V129.72H426V127.8H427V130.9H428V129.3H429V131.1H430V129.8H431V132.27H432V130.24H433V128.3H434V130.51H435V128.8H436V131.08H437V129.8H438V132.28H439V130.85H440V129.3H441V131.02H442V129.8H443V131.32H444V130.3H445V132.29H446V132.3H447V132.3H448V132.3H449V131.84H450V131.78H451V132.25H452V131.67H453V131.3H454V132.24H455V132.15H456V130.69H457V129.8H458V130.28H459V129.3H460V131.53H461V131.33H462V130.8H463V132.22H464V132.27H465V130.42H466V128.3H467V126.3H468V127.3H469V124.3H470V116.6H471V125.3H472V123.3H473V126.3H474V128.8H475V130.3H476V132.29H477V132.21H478V131.35H479V130.8H480V130.8H481V131.92H482V132.3Z" fill="#5a9c22"/>
<text x="287.5" y="127.2" font-size="7.56" fill="#5a9c22" stroke="#5a9c22" stroke-width="0.2" textLength="39.5" lengthAdjust="spacingAndGlyphs">H3K27ac_0h</text>
<path d="M290,151V151H291V151H292V151H293V151H294V151H295V150.32H296V150.26H297V150.32H298V150.25H299V151H300V151H301V151H302V151H303V151H304V151H305V151H306V151H307V151H308V151H309V151H310V151H311V151H312V151H313V151H314V151H315V151H316V151H317V150.42H318V150.43H319V150.48H320V151H321V151H322V151H323V151H324V151H325V151H326V150.35H327V150.32H328V149.27H329V149.17H330V148.2H331V149.46H332V149.4H333V149.38H334V148.86H335V148H336V149.3H337V149.29H338V149.44H339V149.32H340V148.5H341V149.4H342V149.3H343V149.45H344V149.38H345V151H346V151H347V151H348V151H349V151H350V151H351V151H352V151H353V151H354V151H355V151H356V151H357V151H358V151H359V151H360V150.52H361V150.49H362V151H363V151H364V151H365V151H366V151H367V150.31H368V150.35H369V150.3H370V151H371V151H372V151H373V151H374V151H375V151H376V151H377V151H378V151H379V151H380V151H381V151H382V151H383V151H384V151H385V151H386V151H387V151H388V151H389V151H390V150.51H391V150.44H392V151H393V150.36H394V150.33H395V150.33H396V150.42H397V151H398V151H399V151H400V151H401V151H402V150.8H403V150.5H404V151H405V151H406V151H407V151H408V151H409V151H410V151H411V151H412V150.91H413V150.03H414V149.5H415V150.57H416V150.52H417V149.62H418V149H419V150.89H420V151H421V150.92H422V149.93H423V149.5H424V150.92H425V151H426V151H427V151H428V150.4H429V149.96H430V149H431V149.59H432V148H433V150.16H434V149.5H435V149.68H436V148.5H437V148.8H438V147H439V149.86H440V149H441V148.26H442V146H443V149.89H444V149H445V148H446V149.93H447V149H448V149.08H449V147.5H450V150.02H451V149H452V150.72H453V149.64H454V148.5H455V150.23H456V149.5H457V149.85H458V149H459V150.99H460V151H461V151H462V151H463V151H464V151H465V151H466V151H467V150.78H468V148.16H469V147H470V148.56H471V143.4H472V148.65H473V146H474V150.96H475V150.42H476V150.41H477V151H478V150.99H479V150.42H480V150H481V150.99H482V151Z" fill="#5a9c22"/>
<text x="285.6" y="147" font-size="7.56" fill="#5a9c22" stroke="#5a9c22" stroke-width="0.2" textLength="43.4" lengthAdjust="spacingAndGlyphs">H3K27ac_72h</text>
<line x1="278.3" y1="151.2" x2="512" y2="151.2" stroke="#444" stroke-width="1.1"/>
<text x="281.5" y="158.5" font-size="7.99" fill="#1a1a1a" stroke="#1a1a1a" stroke-width="0.2" textLength="14.5" lengthAdjust="spacingAndGlyphs">hg19</text>
<line x1="343" y1="155.8" x2="343" y2="158.2" stroke="#777" stroke-width="0.6"/>
<line x1="402" y1="155.8" x2="402" y2="158.2" stroke="#777" stroke-width="0.6"/>
<line x1="461.2" y1="155.8" x2="461.2" y2="158.2" stroke="#777" stroke-width="0.6"/>
<rect x="293" y="162.6" width="42" height="2.8" fill="#f6c25a"/>
<rect x="345" y="162.6" width="4" height="2.8" fill="#fffad0"/>
<rect x="352" y="162.6" width="3" height="2.8" fill="#fff59a"/>
<rect x="360" y="162.6" width="6" height="2.8" fill="#fffad0"/>
<rect x="373" y="162.6" width="5" height="2.8" fill="#fffad0"/>
<rect x="380" y="162.6" width="3" height="2.8" fill="#fff59a"/>
<rect x="384" y="162.6" width="7" height="2.8" fill="#ffe61e"/>
<rect x="293" y="162.6" width="1.4" height="2.8" fill="#ec9a3c"/>
<rect x="296" y="162.6" width="1.2" height="2.8" fill="#e25a24"/>
<rect x="298.5" y="162.6" width="1.2" height="2.8" fill="#ffe61e"/>
<rect x="301" y="162.6" width="1.3" height="2.8" fill="#dc1c14"/>
<rect x="304" y="162.6" width="1.3" height="2.8" fill="#ec9a3c"/>
<rect x="307" y="162.6" width="1" height="2.8" fill="#ffe61e"/>
<rect x="309.2" y="162.6" width="1.4" height="2.8" fill="#dc1c14"/>
<rect x="312" y="162.6" width="1.2" height="2.8" fill="#ec9a3c"/>
<rect x="315" y="162.6" width="1.2" height="2.8" fill="#e25a24"/>
<rect x="318" y="162.6" width="1.4" height="2.8" fill="#dc1c14"/>
<rect x="321" y="162.6" width="1" height="2.8" fill="#f6c25a"/>
<rect x="323.6" y="162.6" width="1.2" height="2.8" fill="#e25a24"/>
<rect x="326" y="162.6" width="1.2" height="2.8" fill="#ec9a3c"/>
<rect x="328.5" y="162.6" width="1.2" height="2.8" fill="#dc1c14"/>
<rect x="331.5" y="162.6" width="1.2" height="2.8" fill="#e25a24"/>
<rect x="334.5" y="162.6" width="1" height="2.8" fill="#ffe61e"/>
<rect x="338" y="162.6" width="1" height="2.8" fill="#f6c25a"/>
<rect x="348" y="162.6" width="1" height="2.8" fill="#fff59a"/>
<rect x="352" y="162.6" width="1" height="2.8" fill="#fff066"/>
<rect x="357" y="162.6" width="1" height="2.8" fill="#ffe61e"/>
<rect x="362" y="162.6" width="1" height="2.8" fill="#fff066"/>
<rect x="368.5" y="162.6" width="1.4" height="2.8" fill="#e25a24"/>
<rect x="372" y="162.6" width="1" height="2.8" fill="#fff066"/>
<rect x="377" y="162.6" width="1" height="2.8" fill="#fff59a"/>
<rect x="382" y="162.6" width="1" height="2.8" fill="#fff066"/>
<rect x="385" y="162.6" width="1" height="2.8" fill="#ffe61e"/>
<rect x="387" y="162.6" width="1.5" height="2.8" fill="#ffe61e"/>
<rect x="390" y="162.6" width="1" height="2.8" fill="#fff066"/>
<rect x="401.5" y="162.6" width="1" height="2.8" fill="#ffe61e"/>
<rect x="407" y="162.6" width="1" height="2.8" fill="#fff066"/>
<rect x="411.5" y="162.6" width="1" height="2.8" fill="#ffe61e"/>
<rect x="416.5" y="162.6" width="1.3" height="2.8" fill="#dc1c14"/>
<rect x="420.5" y="162.6" width="1" height="2.8" fill="#ffe61e"/>
<rect x="424" y="162.6" width="1" height="2.8" fill="#f6c25a"/>
<rect x="426.8" y="162.6" width="1.3" height="2.8" fill="#dc1c14"/>
<rect x="430" y="162.6" width="1" height="2.8" fill="#f6c25a"/>
<rect x="433" y="162.6" width="1" height="2.8" fill="#f6c25a"/>
<rect x="436" y="162.6" width="1" height="2.8" fill="#ec9a3c"/>
<rect x="439.5" y="162.6" width="1" height="2.8" fill="#f6c25a"/>
<rect x="443" y="162.6" width="1" height="2.8" fill="#ffe61e"/>
<rect x="446" y="162.6" width="1.3" height="2.8" fill="#dc1c14"/>
<rect x="448" y="162.6" width="1.3" height="2.8" fill="#dc1c14"/>
<rect x="450.3" y="162.6" width="1.3" height="2.8" fill="#e25a24"/>
<rect x="452.5" y="162.6" width="1" height="2.8" fill="#ec9a3c"/>
<rect x="455" y="162.6" width="1" height="2.8" fill="#f6c25a"/>
<rect x="458" y="162.6" width="1" height="2.8" fill="#ffe61e"/>
<rect x="462" y="162.6" width="1" height="2.8" fill="#fff066"/>
<rect x="465" y="162.6" width="1" height="2.8" fill="#fff066"/>
<rect x="468" y="162.6" width="1" height="2.8" fill="#f6c25a"/>
<rect x="471.5" y="162.6" width="1" height="2.8" fill="#ec9a3c"/>
<rect x="475" y="162.6" width="1" height="2.8" fill="#f6c25a"/>
<rect x="479" y="162.6" width="1" height="2.8" fill="#ffe61e"/>
<rect x="482.5" y="162.6" width="1" height="2.8" fill="#f6c25a"/>
<rect x="294" y="170.5" width="1" height="1" fill="#ffe080"/>
<line x1="332" y1="170" x2="446" y2="170" stroke="#999" stroke-width="0.7"/>
<rect x="344.4" y="169.4" width="1.2" height="1.2" fill="#555"/>
<rect x="354.4" y="169.4" width="1.2" height="1.2" fill="#555"/>
<rect x="377.4" y="169.4" width="1.2" height="1.2" fill="#555"/>
<rect x="389.4" y="169.4" width="1.2" height="1.2" fill="#555"/>
<rect x="401.4" y="169.4" width="1.2" height="1.2" fill="#555"/>
<rect x="411.4" y="169.4" width="1.2" height="1.2" fill="#555"/>
<rect x="431.4" y="169.4" width="1.2" height="1.2" fill="#555"/>
<rect x="439.4" y="169.4" width="1.2" height="1.2" fill="#555"/>
<rect x="293" y="168.5" width="39.2" height="3" fill="#1515a8"/>
<rect x="331" y="167.3" width="1.6" height="5.4" fill="#1515a8"/>
<rect x="368" y="166.6" width="1.4" height="6.4" fill="#1515a8"/>
<rect x="416.8" y="166.6" width="1.8" height="6.4" fill="#1515a8"/>
<rect x="425.5" y="166.6" width="1.8" height="6.4" fill="#1515a8"/>
<path d="M446.2,166.6 H448.2 V167.8 L451.0,168.6 V171.4 L448.2,172.2 V173.0 H446.2 Z" fill="#1515a8"/>
<text x="327.6" y="181.8" font-size="8.21" fill="#1a1a1a" stroke="#1a1a1a" stroke-width="0.2" textLength="21.9" lengthAdjust="spacingAndGlyphs">CCND1</text>
<line x1="290.7" y1="183.5" x2="290.7" y2="198.5" stroke="#8e0f12" stroke-width="0.6"/>
<line x1="289.5" y1="183.5" x2="290.7" y2="183.5" stroke="#8e0f12" stroke-width="0.5"/>
<text x="279" y="185.3" font-size="4.97" fill="#8e0f12" stroke="#8e0f12" stroke-width="0.06" textLength="9.4" lengthAdjust="spacingAndGlyphs">1.134</text>
<text x="286.2" y="198.8" font-size="4.97" fill="#8e0f12" stroke="#8e0f12" stroke-width="0.06" textLength="2.2" lengthAdjust="spacingAndGlyphs">0</text>
<path d="M292,198.5V198.5H293V198.5H294V198.5H295V198.5H296V198.41H297V197.54H298V197H299V198.42H300V198.39H301V197.18H302V196.5H303V198.38H304V198.5H305V198.5H306V198.5H307V197.45H308V197.43H309V197.59H310V198.5H311V198.5H312V198.5H313V198.5H314V198.5H315V198.5H316V198.5H317V198.5H318V198.5H319V198.5H320V198.5H321V198.5H322V198.5H323V198.5H324V197.56H325V197.62H326V198.5H327V198.5H328V198.5H329V197.27H330V197.41H331V198.5H332V198.5H333V197.55H334V197.56H335V197.56H336V198.5H337V198.5H338V197.16H339V197.06H340V197H341V197.16H342V198.5H343V198.5H344V197.67H345V197.65H346V198.5H347V198.5H348V198.5H349V198.5H350V198.5H351V198.5H352V198.5H353V198.41H354V197.55H355V197H356V198.42H357V198.5H358V198.5H359V198.5H360V198.5H361V198.5H362V197.95H363V197.94H364V198.5H365V197H366V198.5H367V198.5H368V198.5H369V197.87H370V197.9H371V198.5H372V198.5H373V198.5H374V197.45H375V197.5H376V198.5H377V198.5H378V197.86H379V197.45H380V197H381V198.41H382V198.5H383V198.5H384V198.5H385V197.74H386V197.72H387V197.85H388V198.5H389V198.5H390V198.5H391V198.5H392V198.5H393V198.5H394V198.5H395V198.5H396V198.5H397V197.65H398V197.69H399V197.68H400V198.5H401V198.5H402V198.4H403V197.09H404V196.5H405V197.33H406V197.28H407V198.5H408V198.5H409V198.5H410V198.5H411V198.5H412V198.5H413V198.5H414V198.5H415V198.5H416V198.5H417V198.5H418V197.47H419V196.98H420V196H421V198.34H422V197.73H423V197.66H424V198.5H425V197.68H426V197.03H427V196.5H428V198.4H429V198.5H430V198.36H431V196.9H432V196H433V198.35H434V198.5H435V198.5H436V198.5H437V198.5H438V198.4H439V197.06H440V196.5H441V198.37H442V198.5H443V198.5H444V198.5H445V198.5H446V198.5H447V198.5H448V198.37H449V196.98H450V196H451V198.34H452V198.5H453V198.5H454V198.5H455V198.5H456V197.58H457V197.15H458V196.5H459V198.39H460V198.5H461V198.5H462V198.5H463V198.5H464V198.21H465V195.08H466V193.5H467V195.49H468V192.5H469V194.05H470V190.5H471V183.5H472V193.68H473V189.5H474V195.49H475V193.5H476V196.67H477V196H478V197.84H479V197.86H480V197.87H481V197.3H482V198.49H483V197.45H484V198.5Z" fill="#8e0f12"/>
<text x="297.6" y="191.5" font-size="7.56" fill="#8e0f12" stroke="#8e0f12" stroke-width="0.2" textLength="20.1" lengthAdjust="spacingAndGlyphs">Hoxa9</text>
<rect x="278.1" y="211" width="233.9" height="178.3" fill="none" stroke="#4a4a4a" stroke-width="1.3" rx="0.8"/>
<line x1="278.1" y1="389.3" x2="512" y2="389.3" stroke="#2a2a2a" stroke-width="1.2"/>
<text x="282.9" y="222.6" font-size="8.86" fill="#1a1a1a" stroke="#1a1a1a" stroke-width="0.2" textLength="21.6" lengthAdjust="spacingAndGlyphs">mm10</text>
<line x1="306.3" y1="216.2" x2="306.3" y2="219.6" stroke="#555" stroke-width="0.6"/>
<line x1="363.5" y1="216.2" x2="363.5" y2="219.6" stroke="#555" stroke-width="0.6"/>
<line x1="421" y1="216.2" x2="421" y2="219.6" stroke="#555" stroke-width="0.6"/>
<line x1="478.8" y1="216.2" x2="478.8" y2="219.6" stroke="#555" stroke-width="0.6"/>
<line x1="334.6" y1="212.6" x2="334.6" y2="218.8" stroke="#555" stroke-width="0.6"/>
<line x1="392.6" y1="212.6" x2="392.6" y2="218.8" stroke="#555" stroke-width="0.6"/>
<line x1="450.4" y1="212.6" x2="450.4" y2="218.8" stroke="#555" stroke-width="0.6"/>
<text x="323" y="215.4" font-size="5.4" fill="#333" stroke="#333" stroke-width="0.06" textLength="22.8" lengthAdjust="spacingAndGlyphs">96,410 kb</text>
<text x="381.7" y="215.4" font-size="5.4" fill="#333" stroke="#333" stroke-width="0.06" textLength="22.3" lengthAdjust="spacingAndGlyphs">96,412 kb</text>
<text x="438.5" y="215.4" font-size="5.4" fill="#333" stroke="#333" stroke-width="0.06" textLength="22.1" lengthAdjust="spacingAndGlyphs">96,414 kb</text>
<rect x="299.5" y="222.6" width="1.5" height="3.6" fill="#fff066"/>
<rect x="313" y="222.6" width="1" height="3.6" fill="#fffad0"/>
<rect x="320.2" y="222.6" width="1.2" height="3.6" fill="#e25a24"/>
<rect x="321.4" y="222.6" width="1" height="3.6" fill="#f6c25a"/>
<rect x="322.2" y="222.6" width="7.4" height="3.6" fill="#ffe61e"/>
<rect x="331" y="222.6" width="2" height="3.6" fill="#fffad0"/>
<rect x="334.3" y="222.6" width="0.8" height="3.6" fill="#fff59a"/>
<rect x="337" y="222.6" width="0.8" height="3.6" fill="#ffe61e"/>
<rect x="339" y="222.6" width="1" height="3.6" fill="#fff066"/>
<rect x="342.2" y="222.6" width="1" height="3.6" fill="#ffe61e"/>
<rect x="348" y="222.6" width="2" height="3.6" fill="#fffad0"/>
<rect x="352.5" y="222.6" width="6" height="3.6" fill="#ffe61e"/>
<rect x="360" y="222.6" width="2" height="3.6" fill="#ffe61e"/>
<rect x="364.5" y="222.6" width="1.4" height="3.6" fill="#ffe61e"/>
<rect x="367" y="222.6" width="2" height="3.6" fill="#ffe61e"/>
<rect x="462.8" y="222.6" width="10.6" height="3.6" fill="#fff59a"/>
<rect x="465.6" y="222.6" width="1.3" height="3.6" fill="#e25a24"/>
<rect x="471.6" y="222.6" width="1.3" height="3.6" fill="#ec9a3c"/>
<rect x="462.6" y="229.9" width="11.5" height="2.9" fill="#1515a8"/>
<text x="442.4" y="239.3" font-size="9.72" fill="#1a1a1a" stroke="#1a1a1a" stroke-width="0.2" textLength="14.4" lengthAdjust="spacingAndGlyphs">Terc</text>
<line x1="298.3" y1="260" x2="298.3" y2="388.5" stroke="#f2b8c4" stroke-width="0.6"/>
<line x1="294" y1="257.4" x2="510" y2="257.4" stroke="#e0e0e0" stroke-width="1"/>
<line x1="294.2" y1="241.6" x2="294.2" y2="257.4" stroke="#8e0f12" stroke-width="0.6"/>
<line x1="294.2" y1="241.6" x2="295.5" y2="241.6" stroke="#8e0f12" stroke-width="0.5"/>
<line x1="294.2" y1="257.4" x2="295.5" y2="257.4" stroke="#8e0f12" stroke-width="0.5"/>
<text x="283.4" y="243.4" font-size="4.97" fill="#8e0f12" stroke="#8e0f12" stroke-width="0.06" textLength="9.2" lengthAdjust="spacingAndGlyphs">0.567</text>
<text x="290.4" y="258.2" font-size="4.97" fill="#8e0f12" stroke="#8e0f12" stroke-width="0.06" textLength="2.2" lengthAdjust="spacingAndGlyphs">0</text>
<path d="M296,257.4V257.4H297V257.4H298V257.34H299V256.42H300V256.4H301V256.53H302V257.4H303V257.4H304V257.4H305V255.65H306V255.4H307V257.4H308V257.39H309V257.37H310V254.86H311V254.4H312V256.33H313V254.69H314V253.54H315V252.39H316V251.4H317V253.37H318V254.08H319V252.32H320V250.14H321V249.4H322V251.64H323V249.13H324V247.44H325V246.9H326V244.9H327V252.48H328V253.73H329V250.85H330V248.84H331V247.9H332V251.56H333V253.38H334V250.75H335V248.4H336V254.06H337V256.13H338V256.08H339V256.02H340V255.9H341V257.4H342V257.4H343V256.82H344V255.71H345V255.4H346V256.9H347V257.4H348V255.81H349V255.4H350V257.4H351V256.05H352V256.2H353V257.4H354V257.4H355V256.52H356V255.69H357V255.4H358V256.03H359V256.25H360V256.25H361V257.4H362V256.2H363V255.9H364V256.58H365V257.4H366V257.4H367V257.4H368V257.4H369V257.4H370V257.27H371V255.06H372V254.4H373V257.26H374V257.4H375V257.4H376V257.4H377V257.4H378V256.45H379V254.48H380V253.9H381V256.4H382V257.4H383V257.4H384V257.4H385V257.4H386V257.4H387V257.4H388V257.4H389V256.04H390V255.9H391V257.4H392V257.4H393V257.4H394V256.56H395V256.4H396V256.53H397V257.4H398V257.4H399V257.4H400V257.4H401V257.4H402V257.4H403V257.4H404V257.4H405V257.4H406V257.4H407V256.6H408V256.49H409V256.64H410V256.64H411V255.78H412V253.4H413V253.73H414V256.95H415V257.4H416V257.4H417V257.4H418V256.63H419V255.74H420V255.4H421V257.4H422V256.3H423V256.37H424V254.63H425V254.4H426V257.39H427V257.4H428V257.4H429V255.82H430V255.4H431V257.4H432V257.4H433V257.4H434V257.39H435V254.69H436V254.4H437V257.39H438V257.4H439V255.65H440V255.4H441V257.4H442V257.4H443V257.4H444V257.4H445V255.77H446V255.4H447V256.97H448V257.25H449V254.79H450V254.4H451V257.26H452V257.01H453V256.36H454V255.26H455V254.08H456V252.72H457V252.4H458V254.26H459V255.18H460V253.5H461V251.36H462V250.9H463V253.6H464V250.09H465V248.4H466V250.88H467V252.65H468V241.8H469V246.4H470V252.46H471V248.9H472V247.4H473V254.7H474V253.85H475V250.9H476V249.4H477V253.89H478V255.29H479V252.98H480V251.9H481V255.18H482V256.83H483V254.86H484V253.4H485V254.85H486V257.32H487V257.39H488V254.66H489V254.4H490V257.4Z" fill="#8e0f12"/>
<text x="312.2" y="244.8" font-size="8.21" fill="#8e0f12" stroke="#8e0f12" stroke-width="0.2" textLength="20" lengthAdjust="spacingAndGlyphs">Hoxa9</text>
<line x1="294" y1="277.7" x2="510" y2="277.7" stroke="#e0e0e0" stroke-width="1"/>
<line x1="294.6" y1="261" x2="294.6" y2="277.7" stroke="#c0163f" stroke-width="0.6"/>
<line x1="294.6" y1="261" x2="295.9" y2="261" stroke="#c0163f" stroke-width="0.5"/>
<line x1="294.6" y1="277.7" x2="295.9" y2="277.7" stroke="#c0163f" stroke-width="0.5"/>
<text x="287.3" y="262.8" font-size="4.97" fill="#c0163f" stroke="#c0163f" stroke-width="0.06" textLength="4.7" lengthAdjust="spacingAndGlyphs">0.8</text>
<text x="289.8" y="278.5" font-size="4.97" fill="#c0163f" stroke="#c0163f" stroke-width="0.06" textLength="2.2" lengthAdjust="spacingAndGlyphs">0</text>
<path d="M298,277.7V277.03H299V277.11H300V277H301V277.7H302V277.7H303V277.7H304V277.7H305V277.7H306V277.7H307V277.7H308V277.7H309V277.7H310V277.7H311V277.7H312V277.7H313V277.7H314V277.7H315V277.7H316V277.7H317V277.7H318V277.7H319V277.7H320V277.35H321V277.7H322V277.7H323V277.7H324V277.7H325V277.7H326V277.7H327V277.7H328V277.7H329V277.7H330V277.7H331V277.7H332V277.7H333V277.7H334V277.7H335V277.7H336V277.7H337V277.7H338V277.51H339V277.02H340V276.9H341V277.49H342V277.11H343V277.22H344V277.7H345V277.7H346V277.7H347V277.18H348V277H349V277.7H350V277.7H351V277.7H352V277.7H353V277.7H354V277.7H355V277.7H356V277.15H357V276.95H358V276.9H359V277.48H360V277.36H361V277.38H362V277.7H363V277.7H364V277.7H365V277.7H366V277.7H367V277.7H368V277.7H369V277.7H370V277.66H371V276.97H372V276.9H373V277.66H374V277.7H375V277.7H376V277.7H377V277.7H378V277.7H379V277.7H380V277.65H381V276.76H382V276.5H383V277.64H384V277.7H385V277.7H386V277.7H387V277.7H388V277.7H389V277.7H390V277.7H391V277.7H392V277.7H393V277.6H394V276.38H395V275.94H396V275.7H397V274.42H398V273.98H399V272.9H400V274.74H401V276.26H402V277.08H403V277.54H404V277.67H405V277.14H406V277.62H407V276.48H408V275.73H409V275.7H410V276.35H411V275.95H412V275.14H413V274.7H414V275.64H415V272.89H416V271.39H417V269.7H418V268.83H419V265.1H420V272.48H421V268.7H422V272.05H423V272.36H424V270.7H425V273.64H426V273.58H427V272.7H428V273.55H429V274.83H430V272.9H431V274.59H432V274.2H433V276.79H434V274.7H435V276.46H436V277.7H437V277.36H438V277.38H439V277.39H440V277.7H441V277.7H442V277.12H443V276.15H444V275.29H445V275.2H446V276.27H447V277.58H448V277.7H449V277.7H450V277.68H451V277.34H452V265.99H453V265.52H454V264.7H455V266.58H456V277.27H457V277.69H458V277.7H459V277.7H460V277.04H461V277.06H462V276.39H463V276.2H464V275.25H465V274.7H466V275.4H467V272.9H468V271.7H469V270.26H470V268.7H471V266.66H472V264.7H473V266.88H474V276.22H475V277.61H476V277.7Z" fill="#c0163f"/>
<text x="309.2" y="269.7" font-size="8.1" fill="#c0163f" stroke="#c0163f" stroke-width="0.2" textLength="25.3" lengthAdjust="spacingAndGlyphs">RNA_0h</text>
<line x1="294" y1="297.3" x2="510" y2="297.3" stroke="#e0e0e0" stroke-width="1"/>
<line x1="294.6" y1="281.2" x2="294.6" y2="297.3" stroke="#c0163f" stroke-width="0.6"/>
<line x1="294.6" y1="281.2" x2="295.9" y2="281.2" stroke="#c0163f" stroke-width="0.5"/>
<line x1="294.6" y1="297.3" x2="295.9" y2="297.3" stroke="#c0163f" stroke-width="0.5"/>
<text x="287.3" y="283" font-size="4.97" fill="#c0163f" stroke="#c0163f" stroke-width="0.06" textLength="4.7" lengthAdjust="spacingAndGlyphs">0.8</text>
<text x="289.8" y="298.1" font-size="4.97" fill="#c0163f" stroke="#c0163f" stroke-width="0.06" textLength="2.2" lengthAdjust="spacingAndGlyphs">0</text>
<path d="M298,297.3V297.3H299V297.3H300V297.3H301V297.3H302V297.3H303V297.3H304V297.3H305V297.3H306V297.3H307V297.3H308V297.3H309V297.3H310V297.3H311V297.3H312V297.3H313V297.3H314V296.56H315V297.3H316V297.3H317V297.3H318V297.3H319V297.3H320V297.3H321V297.3H322V297.3H323V297.3H324V297.3H325V297.3H326V297.3H327V297.3H328V297.3H329V297.3H330V297.3H331V297.3H332V297.3H333V297.3H334V297.03H335V297.3H336V297.3H337V297.3H338V297.3H339V297.3H340V297.3H341V297.3H342V297.3H343V297.07H344V296.63H345V296.5H346V296.87H347V296.94H348V296.92H349V296.9H350V297.3H351V297.3H352V297.3H353V297.08H354V297.06H355V297.3H356V297.3H357V297.3H358V296.85H359V296.65H360V296.5H361V297.07H362V297.3H363V296.85H364V296.93H365V297.3H366V296.85H367V296.79H368V296.84H369V297.3H370V297.3H371V296.43H372V296.3H373V297.3H374V297.3H375V297.3H376V297.3H377V296.97H378V296.98H379V296.98H380V297.3H381V297.3H382V297.3H383V296.6H384V296.5H385V297.3H386V296.8H387V297.3H388V297.3H389V296.89H390V296.96H391V297.3H392V297.3H393V297.3H394V297.21H395V296.06H396V295.54H397V295.3H398V295.18H399V295H400V296.74H401V297.3H402V296.62H403V297.3H404V297.3H405V296.67H406V295.9H407V295.8H408V296.19H409V295.54H410V295.5H411V296.19H412V296.8H413V295.66H414V295.3H415V295.67H416V294.82H417V294.8H418V295.67H419V297.17H420V295.64H421V294.86H422V294.3H423V295.63H424V297.16H425V294.95H426V294H427V294.86H428V296.73H429V295.65H430V295.3H431V296.74H432V296.84H433V295.59H434V295.5H435V296.78H436V297.3H437V297.21H438V296.16H439V295.62H440V295.3H441V296.07H442V296.75H443V295.39H444V295.3H445V296.71H446V297.3H447V296.12H448V294.8H449V296.07H450V296.99H451V296.94H452V289.41H453V288.8H454V289.85H455V290.89H456V296.88H457V296.78H458V295.64H459V295.3H460V296.79H461V296.07H462V295.8H463V296.88H464V297.3H465V297.3H466V297.3H467V297.3H468V297.3H469V295.88H470V294.3H471V295.44H472V293.3H473V295.14H474V297.3H475V297.3H476V297.3Z" fill="#c0163f"/>
<text x="307.3" y="290.6" font-size="8.1" fill="#c0163f" stroke="#c0163f" stroke-width="0.2" textLength="29.5" lengthAdjust="spacingAndGlyphs">RNA_72h</text>
<line x1="294" y1="318" x2="510" y2="318" stroke="#e0e0e0" stroke-width="1"/>
<line x1="294.2" y1="302.3" x2="294.2" y2="318" stroke="#5a9c22" stroke-width="0.6"/>
<line x1="294.2" y1="302.3" x2="295.5" y2="302.3" stroke="#5a9c22" stroke-width="0.5"/>
<line x1="294.2" y1="318" x2="295.5" y2="318" stroke="#5a9c22" stroke-width="0.5"/>
<text x="283" y="304.1" font-size="4.97" fill="#5a9c22" stroke="#5a9c22" stroke-width="0.06" textLength="10" lengthAdjust="spacingAndGlyphs">2.224</text>
<text x="290.8" y="318.8" font-size="4.97" fill="#5a9c22" stroke="#5a9c22" stroke-width="0.06" textLength="2.2" lengthAdjust="spacingAndGlyphs">0</text>
<rect x="291.2" y="316.4" width="0.9" height="0.9" fill="#5a9c22"/>
<path d="M298,318V317.8H299V317.79H300V317.8H301V318H302V318H303V318H304V318H305V318H306V318H307V318H308V318H309V318H310V318H311V318H312V318H313V318H314V318H315V318H316V318H317V318H318V318H319V317.47H320V317.4H321V318H322V318H323V318H324V318H325V318H326V318H327V318H328V318H329V318H330V318H331V317.73H332V317.75H333V318H334V318H335V318H336V318H337V318H338V318H339V318H340V317.87H341V317.86H342V318H343V318H344V317.54H345V317.4H346V318H347V318H348V318H349V318H350V318H351V318H352V318H353V318H354V317.45H355V317.4H356V318H357V318H358V318H359V318H360V318H361V318H362V318H363V318H364V317.51H365V317.4H366V318H367V318H368V318H369V318H370V318H371V318H372V318H373V318H374V318H375V318H376V318H377V318H378V318H379V317.68H380V317.6H381V318H382V318H383V318H384V318H385V317.83H386V318H387V318H388V317.71H389V317.76H390V318H391V318H392V318H393V318H394V318H395V318H396V318H397V318H398V318H399V318H400V318H401V318H402V318H403V318H404V318H405V318H406V318H407V317.86H408V317.84H409V318H410V318H411V318H412V318H413V318H414V318H415V318H416V318H417V318H418V318H419V318H420V318H421V318H422V318H423V318H424V318H425V318H426V318H427V318H428V318H429V318H430V318H431V318H432V318H433V318H434V318H435V318H436V318H437V318H438V318H439V318H440V318H441V318H442V318H443V317.87H444V317.89H445V317.89H446V318H447V317.76H448V317H449V317.43H450V316.06H451V316H452V316.6H453V315.27H454V315H455V315.13H456V314.79H457V313H458V313.53H459V312.66H460V310H461V313.7H462V308.97H463V308H464V312.02H465V310.35H466V306H467V306.56H468V305.3H469V310.07H470V306.5H471V312.48H472V310H473V312.39H474V313H475V316.36H476V316.5H477V318Z" fill="#5a9c22"/>
<text x="302.6" y="311" font-size="8.1" fill="#5a9c22" stroke="#5a9c22" stroke-width="0.2" textLength="39.2" lengthAdjust="spacingAndGlyphs">H3K27ac_0h</text>
<line x1="294.2" y1="322.3" x2="294.2" y2="339" stroke="#5a9c22" stroke-width="0.6"/>
<line x1="294.2" y1="322.3" x2="295.5" y2="322.3" stroke="#5a9c22" stroke-width="0.5"/>
<line x1="294.2" y1="339" x2="295.5" y2="339" stroke="#5a9c22" stroke-width="0.5"/>
<text x="283" y="324.1" font-size="4.97" fill="#5a9c22" stroke="#5a9c22" stroke-width="0.06" textLength="10" lengthAdjust="spacingAndGlyphs">2.224</text>
<text x="290.8" y="339.8" font-size="4.97" fill="#5a9c22" stroke="#5a9c22" stroke-width="0.06" textLength="2.2" lengthAdjust="spacingAndGlyphs">0</text>
<path d="M298,339V339H299V339H300V339H301V339H302V339H303V339H304V339H305V339H306V339H307V339H308V339H309V339H310V339H311V338.3H312V338H313V339H314V339H315V339H316V339H317V339H318V339H319V339H320V339H321V339H322V338.13H323V338H324V339H325V339H326V339H327V338.86H328V338.86H329V339H330V339H331V339H332V339H333V339H334V339H335V339H336V339H337V339H338V339H339V339H340V339H341V339H342V339H343V339H344V339H345V339H346V339H347V339H348V339H349V339H350V339H351V339H352V339H353V339H354V339H355V339H356V339H357V339H358V339H359V339H360V338.78H361V339H362V339H363V339H364V339H365V339H366V339H367V339H368V339H369V339H370V339H371V339H372V339H373V339H374V339H375V338.84H376V338.84H377V339H378V339H379V339H380V339H381V339H382V339H383V338.7H384V338.5H385V339H386V339H387V339H388V338.86H389V338.85H390V339H391V339H392V339H393V339H394V339H395V339H396V339H397V339H398V339H399V339H400V339H401V339H402V339H403V338.79H404V338.78H405V338.77H406V339H407V339H408V339H409V339H410V339H411V339H412V339H413V339H414V339H415V339H416V339H417V339H418V339H419V339H420V339H421V339H422V339H423V339H424V339H425V339H426V338.75H427V338.76H428V338.71H429V339H430V339H431V339H432V339H433V339H434V339H435V339H436V339H437V339H438V339H439V339H440V339H441V339H442V338.4H443V338.2H444V339H445V339H446V339H447V339H448V338.29H449V338H450V338.56H451V337.92H452V337.5H453V337.54H454V336.22H455V336H456V336.81H457V335.45H458V334H459V335.62H460V334.1H461V332H462V334.28H463V329.63H464V329H465V330.23H466V326H467V331.07H468V323.1H469V328.67H470V325H471V329.15H472V328H473V332.4H474V330H475V334.8H476V334H477V337.47H478V337H479V338.19H480V339Z" fill="#5a9c22"/>
<text x="300.8" y="332" font-size="8.1" fill="#5a9c22" stroke="#5a9c22" stroke-width="0.2" textLength="43" lengthAdjust="spacingAndGlyphs">H3K27ac_72h</text>
<line x1="278.1" y1="338.9" x2="512" y2="338.9" stroke="#444" stroke-width="1.1"/>
<text x="283" y="349.8" font-size="8.86" fill="#1a1a1a" stroke="#1a1a1a" stroke-width="0.2" textLength="16.2" lengthAdjust="spacingAndGlyphs">hg19</text>
<rect x="307" y="343.4" width="1.2" height="4.4" fill="#f6c25a"/>
<rect x="309" y="343.4" width="1" height="4.4" fill="#fffad0"/>
<rect x="312" y="343.4" width="1" height="4.4" fill="#fffad0"/>
<rect x="314" y="343.4" width="1" height="4.4" fill="#fffad0"/>
<rect x="319" y="343.4" width="1" height="4.4" fill="#fff066"/>
<rect x="323.3" y="343.4" width="0.8" height="4.4" fill="#f6c25a"/>
<rect x="326" y="343.4" width="1" height="4.4" fill="#fffad0"/>
<rect x="329" y="343.4" width="1" height="4.4" fill="#fff066"/>
<rect x="331" y="343.4" width="1" height="4.4" fill="#fffad0"/>
<rect x="338" y="343.4" width="1" height="4.4" fill="#fff066"/>
<rect x="340" y="343.4" width="1" height="4.4" fill="#fffad0"/>
<rect x="342" y="343.4" width="1" height="4.4" fill="#fffad0"/>
<rect x="344.4" y="343.4" width="1" height="4.4" fill="#fff066"/>
<rect x="353" y="343.4" width="1" height="4.4" fill="#fffad0"/>
<rect x="358.3" y="343.4" width="1" height="4.4" fill="#fff066"/>
<rect x="363.3" y="343.4" width="1" height="4.4" fill="#f9cfaa"/>
<rect x="366" y="343.4" width="1" height="4.4" fill="#f6c25a"/>
<rect x="370.3" y="343.4" width="1" height="4.4" fill="#fff066"/>
<rect x="373" y="343.4" width="1" height="4.4" fill="#fff066"/>
<rect x="375.2" y="343.4" width="1" height="4.4" fill="#ec9a3c"/>
<rect x="378" y="343.4" width="1" height="4.4" fill="#fff066"/>
<rect x="380.4" y="343.4" width="1" height="4.4" fill="#fff066"/>
<rect x="383.5" y="343.4" width="1" height="4.4" fill="#fff066"/>
<rect x="387.3" y="343.4" width="1" height="4.4" fill="#fff066"/>
<rect x="389.8" y="343.4" width="1" height="4.4" fill="#f6c25a"/>
<rect x="392" y="343.4" width="1" height="4.4" fill="#fff066"/>
<rect x="395.5" y="343.4" width="1" height="4.4" fill="#fffad0"/>
<rect x="399" y="343.4" width="1" height="4.4" fill="#fff066"/>
<rect x="402" y="343.4" width="1" height="4.4" fill="#fffad0"/>
<rect x="405.8" y="343.4" width="1" height="4.4" fill="#f6c25a"/>
<rect x="410" y="343.4" width="1" height="4.4" fill="#fff066"/>
<rect x="417" y="343.4" width="1" height="4.4" fill="#fffad0"/>
<rect x="420.1" y="343.4" width="1" height="4.4" fill="#e25a24"/>
<rect x="433.2" y="343.4" width="1" height="4.4" fill="#fff066"/>
<rect x="445" y="343.4" width="1" height="4.4" fill="#fffad0"/>
<rect x="452" y="343.4" width="1" height="4.4" fill="#fffad0"/>
<rect x="457" y="343.4" width="1" height="4.4" fill="#fffad0"/>
<rect x="462.4" y="343.4" width="1.2" height="4.4" fill="#ec9a3c"/>
<rect x="464.4" y="343.4" width="1.2" height="4.4" fill="#ec9a3c"/>
<rect x="466.6" y="343.4" width="1.2" height="4.4" fill="#ec9a3c"/>
<rect x="468.4" y="343.4" width="1.2" height="4.4" fill="#e25a24"/>
<rect x="470.4" y="343.4" width="1" height="4.4" fill="#f6c25a"/>
<rect x="472.8" y="343.4" width="1.2" height="4.4" fill="#ec9a3c"/>
<rect x="475.6" y="343.4" width="1" height="4.4" fill="#fff066"/>
<rect x="463.3" y="351.6" width="12.5" height="3.2" fill="#1515a8"/>
<text x="461.6" y="365.3" font-size="7.99" fill="#1a1a1a" stroke="#1a1a1a" stroke-width="0.2" textLength="16.1" lengthAdjust="spacingAndGlyphs">TERC</text>
<line x1="296" y1="366.5" x2="296" y2="388.2" stroke="#8e0f12" stroke-width="0.6"/>
<line x1="296" y1="366.5" x2="297.2" y2="366.5" stroke="#8e0f12" stroke-width="0.5"/>
<text x="289.2" y="368" font-size="4.97" fill="#8e0f12" stroke="#8e0f12" stroke-width="0.06" textLength="4.8" lengthAdjust="spacingAndGlyphs">0.5</text>
<text x="291.6" y="388" font-size="4.97" fill="#8e0f12" stroke="#8e0f12" stroke-width="0.06" textLength="2.2" lengthAdjust="spacingAndGlyphs">0</text>
<path d="M294,388.2V387.23H295V386.7H296V387.08H297V388.17H298V388.2H299V388.2H300V388.2H301V388.2H302V388.2H303V388.2H304V388.2H305V388.2H306V388.2H307V388.2H308V388.2H309V388.2H310V388.2H311V388.2H312V388.2H313V388.2H314V388.2H315V388.2H316V388.2H317V388.2H318V388.2H319V388.2H320V388.2H321V388.2H322V388.2H323V387.4H324V388.2H325V388.2H326V388.2H327V388.2H328V388.2H329V388.2H330V387.49H331V387.48H332V388.2H333V388.2H334V388.2H335V388.2H336V388.2H337V388.2H338V388.2H339V388.2H340V388.2H341V388.2H342V388.2H343V388.2H344V388.2H345V388.2H346V388.2H347V388.2H348V388.2H349V388.2H350V388.2H351V388.2H352V388.2H353V388.2H354V388.2H355V387.44H356V387.37H357V387.44H358V388.2H359V388.2H360V388.2H361V388.09H362V387H363V386.2H364V388.08H365V388.2H366V388.2H367V388.2H368V388.2H369V388.2H370V388.2H371V387.59H372V387.59H373V388.2H374V388.19H375V381.96H376V374.4H377V382.2H378V388.2H379V388.2H380V388.18H381V386.2H382V387.32H383V386.74H384V385.2H385V388.18H386V387.72H387V383.2H388V377.2H389V386.18H390V385.2H391V387.04H392V386.2H393V387.55H394V387.57H395V387.14H396V386.2H397V388.19H398V387.5H399V386.7H400V388.19H401V388.2H402V387.74H403V387.79H404V388.2H405V388.2H406V388.2H407V388.2H408V388.2H409V388.2H410V388.2H411V388.2H412V388.2H413V388.2H414V388.2H415V388.2H416V388.2H417V388.2H418V388.18H419V386.59H420V385.2H421V378.6H422V386.12H423V384.2H424V385.14H425V380.2H426V386.75H427V385.2H428V382.2H429V384.68H430V379.2H431V384.2H432V387.05H433V386.2H434V388.19H435V388.2H436V388.19H437V387.46H438V386.7H439V387.76H440V388.2H441V388.19H442V387.65H443V387.2H444V388.19H445V388.2H446V388.04H447V384.2H448V387.38H449V387.92H450V387.88H451V388.2H452V388.19H453V387.16H454V386.2H455V385.83H456V383.2H457V382.19H458V373.8H459V382.2H460V386.28H461V384.2H462V380.2H463V386.51H464V385.2H465V385.37H466V382.2H467V385.23H468V381.2H469V386.19H470V384.2H471V379.2H472V386.71H473V366.6H474V385.21H475V382.2H476V385.06H477V380.2H478V385.37H479V383.2H480V382.2H481V383.71H482V378.2H483V386H484V384.2H485V387.05H486V386.2H487V384.25H488V378.2H489V386.78H490V385.2H491V388.01H492V386.2H493V387.97H494V388.2Z" fill="#8e0f12"/>
<text x="313" y="379.6" font-size="8.21" fill="#8e0f12" stroke="#8e0f12" stroke-width="0.2" textLength="20.4" lengthAdjust="spacingAndGlyphs">Hoxa9</text>
<rect x="0" y="0" width="520" height="1.1" fill="#000"/>
<rect x="0" y="0" width="1.5" height="656" fill="#111"/>
<rect x="518.5" y="0" width="1.5" height="656" fill="#111"/>
<rect x="0" y="654.7" width="520" height="1.3" fill="#111"/>
</svg>
</body></html>
